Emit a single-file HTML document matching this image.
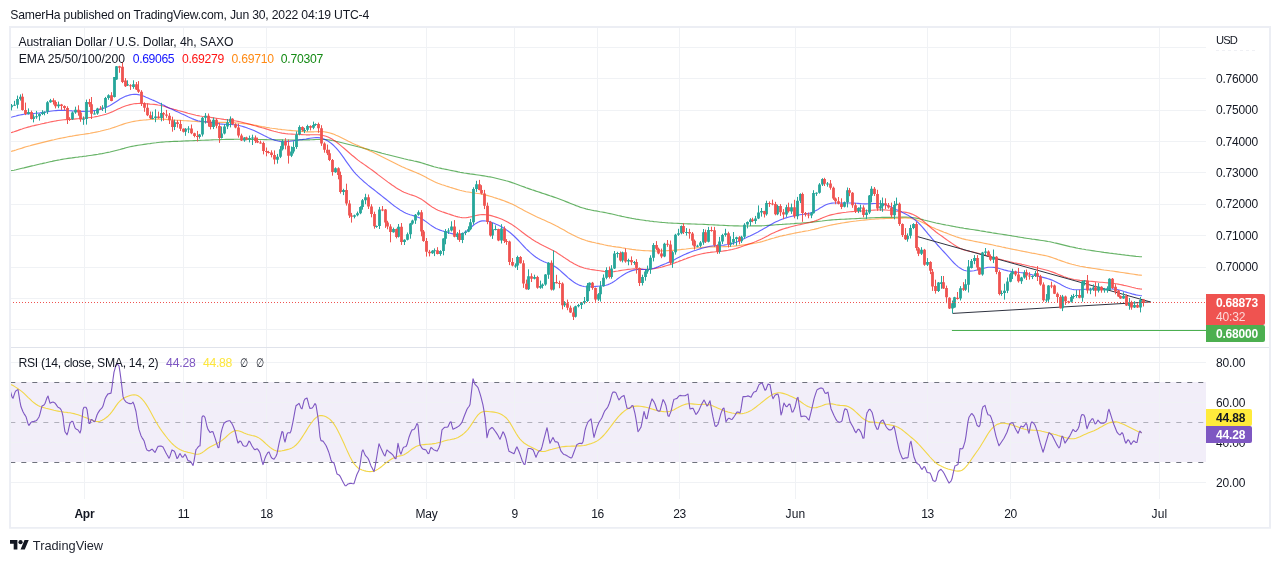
<!DOCTYPE html>
<html><head><meta charset="utf-8"><title>AUDUSD chart</title>
<style>
html,body{margin:0;padding:0;background:#fff;}
body{width:1280px;height:563px;position:relative;overflow:hidden;font-family:"Liberation Sans","DejaVu Sans",sans-serif;color:#131722;}
.x{position:absolute;white-space:pre;line-height:14px;}
svg{position:absolute;left:0;top:0;}
.bd{position:absolute;left:1206px;border-radius:0 2px 2px 0;z-index:2;}
</style></head><body>
<svg width="1280" height="563" viewBox="0 0 1280 563">
<rect x="10.5" y="382" width="1195.5" height="80" fill="#7e57c2" fill-opacity="0.1"/>
<g stroke="#f0f2f5" stroke-width="1" fill="none"><path d="M84.5 28V499"/><path d="M183.5 28V499"/><path d="M266.5 28V499"/><path d="M426.5 28V499"/><path d="M514.5 28V499"/><path d="M597.5 28V499"/><path d="M679.5 28V499"/><path d="M795.5 28V499"/><path d="M927.5 28V499"/><path d="M1010.5 28V499"/><path d="M1159.5 28V499"/><path d="M10.5 47.5H1206"/><path d="M10.5 78.5H1206"/><path d="M10.5 110.5H1206"/><path d="M10.5 141.5H1206"/><path d="M10.5 172.5H1206"/><path d="M10.5 204.5H1206"/><path d="M10.5 235.5H1206"/><path d="M10.5 267.5H1206"/><path d="M10.5 298.5H1206"/><path d="M10.5 329.5H1206"/><path d="M10.5 362.5H1206"/><path d="M10.5 402.5H1206"/><path d="M10.5 442.5H1206"/><path d="M10.5 482.5H1206"/></g>
<path d="M1216 50.5H1258" stroke="#eff0f4" stroke-width="1" stroke-dasharray="3 3" fill="none"/>
<g stroke="#6f727d" stroke-width="1.2" fill="none" stroke-dasharray="5 6"><path d="M10.3 382.5H1206"/><path d="M10.3 462.5H1206"/><path d="M10.3 422.5H1206" stroke-opacity="0.5"/></g>
<path d="M10.0 170.8 L12.0 170.5 L14.0 170.2 L16.0 169.8 L18.0 169.3 L20.0 168.8 L22.0 168.3 L24.0 167.9 L26.0 167.4 L28.0 166.9 L30.0 166.4 L32.0 165.9 L34.0 165.5 L36.0 165.0 L38.0 164.5 L40.0 164.0 L42.0 163.6 L44.0 163.1 L46.0 162.7 L48.0 162.2 L50.0 161.8 L52.0 161.4 L54.0 160.9 L56.0 160.5 L58.0 160.1 L60.0 159.8 L62.0 159.4 L64.0 159.0 L66.0 158.7 L68.0 158.4 L70.0 158.1 L72.0 157.9 L74.0 157.6 L76.0 157.3 L78.0 157.1 L80.0 156.8 L82.0 156.6 L84.0 156.3 L86.0 156.1 L88.0 155.8 L90.0 155.5 L92.0 155.2 L94.0 154.9 L96.0 154.6 L98.0 154.3 L100.0 153.9 L102.0 153.6 L104.0 153.2 L106.0 152.8 L108.0 152.4 L110.0 152.0 L112.0 151.5 L114.0 151.0 L116.0 150.5 L118.0 150.0 L120.0 149.5 L122.0 148.9 L124.0 148.4 L126.0 147.8 L128.0 147.3 L130.0 146.8 L132.0 146.4 L134.0 146.0 L136.0 145.6 L138.0 145.3 L140.0 145.0 L142.0 144.7 L144.0 144.4 L146.0 144.1 L148.0 143.8 L150.0 143.6 L152.0 143.3 L154.0 143.0 L156.0 142.8 L158.0 142.5 L160.0 142.3 L162.0 142.1 L164.0 142.0 L166.0 141.8 L168.0 141.7 L170.0 141.6 L172.0 141.5 L174.0 141.4 L176.0 141.3 L178.0 141.3 L180.0 141.2 L182.0 141.1 L184.0 141.0 L186.0 140.9 L188.0 140.9 L190.0 140.8 L192.0 140.7 L194.0 140.6 L196.0 140.5 L198.0 140.5 L200.0 140.4 L202.0 140.3 L204.0 140.2 L206.0 140.1 L208.0 140.1 L210.0 140.0 L212.0 139.9 L214.0 139.8 L216.0 139.7 L218.0 139.7 L220.0 139.6 L222.0 139.5 L224.0 139.5 L226.0 139.4 L228.0 139.4 L230.0 139.3 L232.0 139.3 L234.0 139.3 L236.0 139.2 L238.0 139.2 L240.0 139.2 L242.0 139.2 L244.0 139.2 L246.0 139.3 L248.0 139.3 L250.0 139.3 L252.0 139.3 L254.0 139.4 L256.0 139.4 L258.0 139.5 L260.0 139.5 L262.0 139.5 L264.0 139.6 L266.0 139.6 L268.0 139.7 L270.0 139.7 L272.0 139.7 L274.0 139.8 L276.0 139.8 L278.0 139.9 L280.0 139.9 L282.0 139.9 L284.0 140.0 L286.0 140.0 L288.0 140.0 L290.0 140.0 L292.0 140.0 L294.0 140.0 L296.0 140.0 L298.0 140.0 L300.0 139.9 L302.0 139.9 L304.0 139.9 L306.0 139.9 L308.0 139.8 L310.0 139.8 L312.0 139.7 L314.0 139.6 L316.0 139.5 L318.0 139.5 L320.0 139.5 L322.0 139.5 L324.0 139.5 L326.0 139.6 L328.0 139.8 L330.0 140.1 L332.0 140.5 L334.0 140.8 L336.0 141.3 L338.0 141.7 L340.0 142.2 L342.0 142.7 L344.0 143.2 L346.0 143.7 L348.0 144.2 L350.0 144.7 L352.0 145.2 L354.0 145.7 L356.0 146.2 L358.0 146.8 L360.0 147.3 L362.0 147.8 L364.0 148.4 L366.0 148.9 L368.0 149.4 L370.0 150.0 L372.0 150.5 L374.0 151.0 L376.0 151.5 L378.0 152.1 L380.0 152.6 L382.0 153.2 L384.0 153.7 L386.0 154.3 L388.0 154.8 L390.0 155.3 L392.0 155.8 L394.0 156.3 L396.0 156.8 L398.0 157.3 L400.0 157.8 L402.0 158.3 L404.0 158.8 L406.0 159.2 L408.0 159.7 L410.0 160.1 L412.0 160.5 L414.0 161.0 L416.0 161.4 L418.0 161.9 L420.0 162.4 L422.0 163.0 L424.0 163.6 L426.0 164.3 L428.0 164.9 L430.0 165.5 L432.0 166.1 L434.0 166.7 L436.0 167.2 L438.0 167.7 L440.0 168.1 L442.0 168.6 L444.0 169.0 L446.0 169.4 L448.0 169.8 L450.0 170.2 L452.0 170.6 L454.0 171.0 L456.0 171.4 L458.0 171.9 L460.0 172.3 L462.0 172.6 L464.0 173.0 L466.0 173.3 L468.0 173.6 L470.0 173.9 L472.0 174.1 L474.0 174.4 L476.0 174.7 L478.0 175.0 L480.0 175.3 L482.0 175.6 L484.0 175.9 L486.0 176.2 L488.0 176.6 L490.0 176.9 L492.0 177.3 L494.0 177.7 L496.0 178.2 L498.0 178.7 L500.0 179.2 L502.0 179.7 L504.0 180.2 L506.0 180.8 L508.0 181.3 L510.0 181.9 L512.0 182.6 L514.0 183.3 L516.0 184.0 L518.0 184.7 L520.0 185.5 L522.0 186.2 L524.0 186.9 L526.0 187.7 L528.0 188.4 L530.0 189.1 L532.0 189.8 L534.0 190.4 L536.0 191.1 L538.0 191.7 L540.0 192.4 L542.0 193.1 L544.0 193.7 L546.0 194.4 L548.0 195.1 L550.0 195.8 L552.0 196.4 L554.0 197.1 L556.0 197.8 L558.0 198.5 L560.0 199.2 L562.0 200.0 L564.0 200.8 L566.0 201.6 L568.0 202.4 L570.0 203.2 L572.0 204.0 L574.0 204.8 L576.0 205.6 L578.0 206.3 L580.0 207.1 L582.0 207.7 L584.0 208.3 L586.0 208.9 L588.0 209.4 L590.0 209.8 L592.0 210.2 L594.0 210.6 L596.0 210.9 L598.0 211.3 L600.0 211.7 L602.0 212.0 L604.0 212.4 L606.0 212.8 L608.0 213.2 L610.0 213.6 L612.0 214.0 L614.0 214.5 L616.0 215.0 L618.0 215.5 L620.0 215.9 L622.0 216.4 L624.0 216.8 L626.0 217.2 L628.0 217.6 L630.0 218.0 L632.0 218.4 L634.0 218.7 L636.0 219.1 L638.0 219.4 L640.0 219.7 L642.0 220.0 L644.0 220.3 L646.0 220.6 L648.0 220.8 L650.0 221.1 L652.0 221.3 L654.0 221.6 L656.0 221.8 L658.0 222.0 L660.0 222.2 L662.0 222.4 L664.0 222.5 L666.0 222.7 L668.0 222.9 L670.0 223.0 L672.0 223.1 L674.0 223.2 L676.0 223.3 L678.0 223.4 L680.0 223.5 L682.0 223.6 L684.0 223.7 L686.0 223.8 L688.0 223.9 L690.0 223.9 L692.0 224.0 L694.0 224.0 L696.0 224.1 L698.0 224.2 L700.0 224.2 L702.0 224.3 L704.0 224.4 L706.0 224.5 L708.0 224.6 L710.0 224.7 L712.0 224.8 L714.0 224.9 L716.0 225.0 L718.0 225.1 L720.0 225.2 L722.0 225.3 L724.0 225.4 L726.0 225.5 L728.0 225.6 L730.0 225.7 L732.0 225.8 L734.0 225.9 L736.0 225.9 L738.0 225.9 L740.0 226.0 L742.0 226.0 L744.0 226.0 L746.0 226.0 L748.0 226.0 L750.0 226.0 L752.0 225.9 L754.0 225.9 L756.0 225.9 L758.0 225.9 L760.0 225.8 L762.0 225.8 L764.0 225.7 L766.0 225.5 L768.0 225.4 L770.0 225.3 L772.0 225.1 L774.0 225.0 L776.0 224.8 L778.0 224.6 L780.0 224.5 L782.0 224.4 L784.0 224.2 L786.0 224.1 L788.0 224.0 L790.0 223.9 L792.0 223.7 L794.0 223.6 L796.0 223.4 L798.0 223.3 L800.0 223.2 L802.0 223.0 L804.0 222.8 L806.0 222.7 L808.0 222.5 L810.0 222.3 L812.0 222.1 L814.0 221.9 L816.0 221.7 L818.0 221.4 L820.0 221.2 L822.0 221.0 L824.0 220.7 L826.0 220.5 L828.0 220.3 L830.0 220.1 L832.0 219.9 L834.0 219.8 L836.0 219.6 L838.0 219.5 L840.0 219.4 L842.0 219.3 L844.0 219.2 L846.0 219.1 L848.0 219.0 L850.0 218.9 L852.0 218.8 L854.0 218.7 L856.0 218.6 L858.0 218.5 L860.0 218.4 L862.0 218.3 L864.0 218.2 L866.0 218.1 L868.0 218.0 L870.0 217.9 L872.0 217.8 L874.0 217.7 L876.0 217.6 L878.0 217.5 L880.0 217.5 L882.0 217.4 L884.0 217.4 L886.0 217.4 L888.0 217.3 L890.0 217.3 L892.0 217.3 L894.0 217.3 L896.0 217.2 L898.0 217.2 L900.0 217.2 L902.0 217.1 L904.0 217.1 L906.0 217.1 L908.0 217.2 L910.0 217.3 L912.0 217.5 L914.0 217.7 L916.0 218.1 L918.0 218.5 L920.0 219.0 L922.0 219.4 L924.0 220.0 L926.0 220.5 L928.0 221.0 L930.0 221.5 L932.0 222.0 L934.0 222.5 L936.0 223.0 L938.0 223.4 L940.0 223.8 L942.0 224.2 L944.0 224.6 L946.0 225.0 L948.0 225.3 L950.0 225.7 L952.0 226.1 L954.0 226.5 L956.0 226.9 L958.0 227.2 L960.0 227.6 L962.0 227.9 L964.0 228.3 L966.0 228.6 L968.0 228.9 L970.0 229.2 L972.0 229.5 L974.0 229.8 L976.0 230.1 L978.0 230.4 L980.0 230.8 L982.0 231.1 L984.0 231.4 L986.0 231.8 L988.0 232.1 L990.0 232.4 L992.0 232.8 L994.0 233.1 L996.0 233.4 L998.0 233.7 L1000.0 234.0 L1002.0 234.3 L1004.0 234.6 L1006.0 234.9 L1008.0 235.2 L1010.0 235.5 L1012.0 235.9 L1014.0 236.2 L1016.0 236.5 L1018.0 236.9 L1020.0 237.2 L1022.0 237.5 L1024.0 237.9 L1026.0 238.2 L1028.0 238.5 L1030.0 238.8 L1032.0 239.1 L1034.0 239.3 L1036.0 239.6 L1038.0 239.9 L1040.0 240.2 L1042.0 240.5 L1044.0 240.8 L1046.0 241.1 L1048.0 241.5 L1050.0 241.8 L1052.0 242.2 L1054.0 242.7 L1056.0 243.1 L1058.0 243.6 L1060.0 244.1 L1062.0 244.6 L1064.0 245.1 L1066.0 245.6 L1068.0 246.1 L1070.0 246.6 L1072.0 247.0 L1074.0 247.4 L1076.0 247.9 L1078.0 248.3 L1080.0 248.6 L1082.0 249.0 L1084.0 249.3 L1086.0 249.7 L1088.0 250.0 L1090.0 250.3 L1092.0 250.6 L1094.0 250.9 L1096.0 251.2 L1098.0 251.5 L1100.0 251.8 L1102.0 252.1 L1104.0 252.4 L1106.0 252.6 L1108.0 252.9 L1110.0 253.2 L1112.0 253.4 L1114.0 253.7 L1116.0 253.9 L1118.0 254.2 L1120.0 254.4 L1122.0 254.7 L1124.0 254.9 L1126.0 255.2 L1128.0 255.4 L1130.0 255.7 L1132.0 255.9 L1134.0 256.1 L1136.0 256.4 L1138.0 256.5 L1140.0 256.7 L1142.0 256.8" stroke="#008000" stroke-opacity="0.6" stroke-width="1.15" fill="none" stroke-linejoin="round"/>
<path d="M10.0 151.5 L12.0 151.1 L14.0 150.6 L16.0 150.0 L18.0 149.3 L20.0 148.7 L22.0 148.1 L24.0 147.4 L26.0 146.8 L28.0 146.2 L30.0 145.7 L32.0 145.1 L34.0 144.6 L36.0 144.1 L38.0 143.6 L40.0 143.1 L42.0 142.6 L44.0 142.1 L46.0 141.6 L48.0 141.1 L50.0 140.6 L52.0 140.1 L54.0 139.7 L56.0 139.2 L58.0 138.8 L60.0 138.4 L62.0 138.0 L64.0 137.6 L66.0 137.2 L68.0 136.8 L70.0 136.4 L72.0 136.1 L74.0 135.7 L76.0 135.4 L78.0 135.1 L80.0 134.8 L82.0 134.5 L84.0 134.2 L86.0 133.9 L88.0 133.6 L90.0 133.3 L92.0 132.9 L94.0 132.5 L96.0 132.1 L98.0 131.7 L100.0 131.3 L102.0 130.8 L104.0 130.3 L106.0 129.8 L108.0 129.3 L110.0 128.7 L112.0 128.0 L114.0 127.4 L116.0 126.7 L118.0 126.0 L120.0 125.3 L122.0 124.6 L124.0 123.9 L126.0 123.3 L128.0 122.8 L130.0 122.3 L132.0 121.8 L134.0 121.4 L136.0 121.0 L138.0 120.7 L140.0 120.4 L142.0 120.2 L144.0 120.0 L146.0 119.9 L148.0 119.7 L150.0 119.5 L152.0 119.4 L154.0 119.2 L156.0 119.1 L158.0 119.1 L160.0 119.1 L162.0 119.1 L164.0 119.2 L166.0 119.4 L168.0 119.6 L170.0 119.7 L172.0 119.9 L174.0 120.0 L176.0 120.2 L178.0 120.3 L180.0 120.4 L182.0 120.5 L184.0 120.7 L186.0 120.8 L188.0 120.9 L190.0 121.0 L192.0 121.2 L194.0 121.3 L196.0 121.4 L198.0 121.6 L200.0 121.7 L202.0 121.8 L204.0 121.8 L206.0 121.9 L208.0 122.0 L210.0 122.1 L212.0 122.1 L214.0 122.2 L216.0 122.2 L218.0 122.3 L220.0 122.3 L222.0 122.4 L224.0 122.4 L226.0 122.4 L228.0 122.5 L230.0 122.5 L232.0 122.6 L234.0 122.7 L236.0 122.9 L238.0 123.0 L240.0 123.2 L242.0 123.4 L244.0 123.6 L246.0 123.8 L248.0 124.1 L250.0 124.4 L252.0 124.7 L254.0 125.0 L256.0 125.4 L258.0 125.8 L260.0 126.2 L262.0 126.6 L264.0 126.9 L266.0 127.3 L268.0 127.6 L270.0 128.0 L272.0 128.3 L274.0 128.5 L276.0 128.8 L278.0 129.1 L280.0 129.3 L282.0 129.6 L284.0 129.8 L286.0 130.0 L288.0 130.2 L290.0 130.4 L292.0 130.6 L294.0 130.8 L296.0 130.9 L298.0 131.1 L300.0 131.3 L302.0 131.5 L304.0 131.6 L306.0 131.8 L308.0 131.8 L310.0 131.8 L312.0 131.8 L314.0 131.8 L316.0 131.7 L318.0 131.6 L320.0 131.6 L322.0 131.6 L324.0 131.8 L326.0 132.1 L328.0 132.5 L330.0 133.0 L332.0 133.6 L334.0 134.3 L336.0 135.2 L338.0 136.0 L340.0 137.0 L342.0 138.0 L344.0 139.0 L346.0 140.0 L348.0 141.1 L350.0 142.0 L352.0 143.0 L354.0 143.9 L356.0 144.8 L358.0 145.6 L360.0 146.5 L362.0 147.3 L364.0 148.1 L366.0 149.0 L368.0 149.9 L370.0 150.9 L372.0 151.8 L374.0 152.8 L376.0 153.8 L378.0 154.8 L380.0 155.8 L382.0 156.8 L384.0 157.8 L386.0 158.8 L388.0 159.8 L390.0 160.8 L392.0 161.8 L394.0 162.8 L396.0 163.8 L398.0 164.8 L400.0 165.7 L402.0 166.7 L404.0 167.6 L406.0 168.5 L408.0 169.3 L410.0 170.1 L412.0 170.9 L414.0 171.7 L416.0 172.5 L418.0 173.4 L420.0 174.2 L422.0 175.2 L424.0 176.2 L426.0 177.3 L428.0 178.4 L430.0 179.5 L432.0 180.5 L434.0 181.5 L436.0 182.4 L438.0 183.3 L440.0 184.0 L442.0 184.7 L444.0 185.3 L446.0 186.0 L448.0 186.6 L450.0 187.3 L452.0 187.9 L454.0 188.5 L456.0 189.1 L458.0 189.7 L460.0 190.3 L462.0 190.8 L464.0 191.2 L466.0 191.7 L468.0 192.0 L470.0 192.3 L472.0 192.7 L474.0 193.0 L476.0 193.2 L478.0 193.5 L480.0 193.8 L482.0 194.2 L484.0 194.6 L486.0 195.1 L488.0 195.6 L490.0 196.2 L492.0 196.8 L494.0 197.5 L496.0 198.1 L498.0 198.8 L500.0 199.4 L502.0 200.1 L504.0 200.8 L506.0 201.6 L508.0 202.4 L510.0 203.2 L512.0 204.1 L514.0 205.1 L516.0 206.1 L518.0 207.2 L520.0 208.3 L522.0 209.3 L524.0 210.4 L526.0 211.5 L528.0 212.5 L530.0 213.5 L532.0 214.5 L534.0 215.5 L536.0 216.5 L538.0 217.4 L540.0 218.3 L542.0 219.2 L544.0 220.1 L546.0 221.0 L548.0 221.9 L550.0 222.8 L552.0 223.7 L554.0 224.7 L556.0 225.8 L558.0 226.8 L560.0 227.9 L562.0 229.0 L564.0 230.1 L566.0 231.3 L568.0 232.4 L570.0 233.4 L572.0 234.5 L574.0 235.5 L576.0 236.5 L578.0 237.4 L580.0 238.3 L582.0 239.1 L584.0 239.8 L586.0 240.5 L588.0 241.1 L590.0 241.6 L592.0 242.1 L594.0 242.5 L596.0 243.0 L598.0 243.4 L600.0 243.9 L602.0 244.3 L604.0 244.8 L606.0 245.2 L608.0 245.6 L610.0 245.9 L612.0 246.3 L614.0 246.6 L616.0 246.9 L618.0 247.1 L620.0 247.4 L622.0 247.8 L624.0 248.1 L626.0 248.5 L628.0 248.8 L630.0 249.1 L632.0 249.4 L634.0 249.6 L636.0 249.9 L638.0 250.1 L640.0 250.3 L642.0 250.5 L644.0 250.6 L646.0 250.7 L648.0 250.8 L650.0 250.9 L652.0 251.0 L654.0 251.0 L656.0 251.0 L658.0 251.0 L660.0 250.9 L662.0 250.9 L664.0 250.8 L666.0 250.7 L668.0 250.6 L670.0 250.5 L672.0 250.4 L674.0 250.2 L676.0 250.1 L678.0 249.9 L680.0 249.7 L682.0 249.4 L684.0 249.2 L686.0 249.0 L688.0 248.7 L690.0 248.5 L692.0 248.3 L694.0 248.1 L696.0 247.9 L698.0 247.7 L700.0 247.6 L702.0 247.4 L704.0 247.3 L706.0 247.1 L708.0 247.0 L710.0 246.9 L712.0 246.8 L714.0 246.8 L716.0 246.8 L718.0 246.7 L720.0 246.7 L722.0 246.7 L724.0 246.6 L726.0 246.6 L728.0 246.5 L730.0 246.4 L732.0 246.3 L734.0 246.1 L736.0 245.9 L738.0 245.7 L740.0 245.4 L742.0 245.1 L744.0 244.8 L746.0 244.5 L748.0 244.2 L750.0 243.9 L752.0 243.6 L754.0 243.3 L756.0 243.0 L758.0 242.5 L760.0 242.1 L762.0 241.6 L764.0 241.0 L766.0 240.4 L768.0 239.8 L770.0 239.1 L772.0 238.5 L774.0 238.0 L776.0 237.4 L778.0 236.9 L780.0 236.3 L782.0 235.9 L784.0 235.4 L786.0 235.0 L788.0 234.5 L790.0 234.1 L792.0 233.7 L794.0 233.3 L796.0 232.9 L798.0 232.5 L800.0 232.1 L802.0 231.8 L804.0 231.4 L806.0 231.0 L808.0 230.7 L810.0 230.3 L812.0 229.8 L814.0 229.4 L816.0 228.9 L818.0 228.4 L820.0 227.8 L822.0 227.3 L824.0 226.8 L826.0 226.3 L828.0 225.8 L830.0 225.3 L832.0 224.9 L834.0 224.5 L836.0 224.1 L838.0 223.7 L840.0 223.4 L842.0 223.0 L844.0 222.7 L846.0 222.4 L848.0 222.1 L850.0 221.8 L852.0 221.5 L854.0 221.2 L856.0 221.0 L858.0 220.7 L860.0 220.5 L862.0 220.3 L864.0 220.1 L866.0 219.9 L868.0 219.7 L870.0 219.5 L872.0 219.3 L874.0 219.2 L876.0 219.0 L878.0 218.9 L880.0 218.8 L882.0 218.7 L884.0 218.6 L886.0 218.5 L888.0 218.5 L890.0 218.4 L892.0 218.4 L894.0 218.3 L896.0 218.2 L898.0 218.2 L900.0 218.1 L902.0 218.1 L904.0 218.0 L906.0 218.0 L908.0 218.1 L910.0 218.3 L912.0 218.7 L914.0 219.1 L916.0 219.7 L918.0 220.5 L920.0 221.3 L922.0 222.2 L924.0 223.2 L926.0 224.2 L928.0 225.2 L930.0 226.2 L932.0 227.2 L934.0 228.1 L936.0 229.0 L938.0 229.8 L940.0 230.6 L942.0 231.4 L944.0 232.2 L946.0 232.9 L948.0 233.7 L950.0 234.5 L952.0 235.3 L954.0 236.0 L956.0 236.8 L958.0 237.4 L960.0 238.0 L962.0 238.6 L964.0 239.1 L966.0 239.6 L968.0 240.0 L970.0 240.4 L972.0 240.8 L974.0 241.2 L976.0 241.6 L978.0 242.0 L980.0 242.4 L982.0 242.8 L984.0 243.2 L986.0 243.6 L988.0 244.0 L990.0 244.4 L992.0 244.8 L994.0 245.2 L996.0 245.7 L998.0 246.1 L1000.0 246.5 L1002.0 247.0 L1004.0 247.4 L1006.0 247.9 L1008.0 248.3 L1010.0 248.7 L1012.0 249.1 L1014.0 249.5 L1016.0 249.9 L1018.0 250.3 L1020.0 250.7 L1022.0 251.1 L1024.0 251.5 L1026.0 251.9 L1028.0 252.3 L1030.0 252.7 L1032.0 253.1 L1034.0 253.4 L1036.0 253.8 L1038.0 254.2 L1040.0 254.6 L1042.0 255.0 L1044.0 255.4 L1046.0 255.8 L1048.0 256.3 L1050.0 256.9 L1052.0 257.5 L1054.0 258.2 L1056.0 258.9 L1058.0 259.7 L1060.0 260.4 L1062.0 261.1 L1064.0 261.8 L1066.0 262.5 L1068.0 263.1 L1070.0 263.7 L1072.0 264.3 L1074.0 264.8 L1076.0 265.3 L1078.0 265.7 L1080.0 266.2 L1082.0 266.5 L1084.0 266.9 L1086.0 267.3 L1088.0 267.6 L1090.0 267.9 L1092.0 268.2 L1094.0 268.5 L1096.0 268.8 L1098.0 269.1 L1100.0 269.4 L1102.0 269.7 L1104.0 270.0 L1106.0 270.2 L1108.0 270.5 L1110.0 270.8 L1112.0 271.0 L1114.0 271.3 L1116.0 271.6 L1118.0 271.9 L1120.0 272.2 L1122.0 272.5 L1124.0 272.8 L1126.0 273.1 L1128.0 273.4 L1130.0 273.7 L1132.0 274.0 L1134.0 274.3 L1136.0 274.6 L1138.0 274.9 L1140.0 275.1 L1142.0 275.3" stroke="#ff8000" stroke-opacity="0.6" stroke-width="1.15" fill="none" stroke-linejoin="round"/>
<path d="M10.0 132.8 L12.0 132.4 L14.0 131.8 L16.0 131.1 L18.0 130.4 L20.0 129.6 L22.0 129.0 L24.0 128.3 L26.0 127.7 L28.0 127.1 L30.0 126.6 L32.0 126.0 L34.0 125.6 L36.0 125.1 L38.0 124.7 L40.0 124.3 L42.0 123.8 L44.0 123.4 L46.0 122.9 L48.0 122.5 L50.0 122.0 L52.0 121.6 L54.0 121.2 L56.0 120.9 L58.0 120.5 L60.0 120.2 L62.0 120.0 L64.0 119.8 L66.0 119.6 L68.0 119.5 L70.0 119.4 L72.0 119.2 L74.0 119.1 L76.0 118.9 L78.0 118.7 L80.0 118.5 L82.0 118.3 L84.0 118.1 L86.0 117.9 L88.0 117.7 L90.0 117.5 L92.0 117.3 L94.0 117.0 L96.0 116.6 L98.0 116.3 L100.0 115.8 L102.0 115.3 L104.0 114.7 L106.0 114.2 L108.0 113.5 L110.0 112.7 L112.0 111.9 L114.0 111.0 L116.0 110.1 L118.0 109.1 L120.0 108.2 L122.0 107.3 L124.0 106.5 L126.0 105.8 L128.0 105.2 L130.0 104.6 L132.0 104.2 L134.0 103.8 L136.0 103.6 L138.0 103.5 L140.0 103.4 L142.0 103.5 L144.0 103.6 L146.0 103.7 L148.0 103.9 L150.0 104.1 L152.0 104.2 L154.0 104.4 L156.0 104.6 L158.0 105.0 L160.0 105.3 L162.0 105.8 L164.0 106.3 L166.0 106.9 L168.0 107.6 L170.0 108.2 L172.0 108.8 L174.0 109.4 L176.0 109.9 L178.0 110.5 L180.0 111.0 L182.0 111.5 L184.0 112.0 L186.0 112.6 L188.0 113.2 L190.0 113.7 L192.0 114.2 L194.0 114.7 L196.0 115.2 L198.0 115.6 L200.0 116.0 L202.0 116.3 L204.0 116.5 L206.0 116.8 L208.0 117.0 L210.0 117.3 L212.0 117.6 L214.0 117.9 L216.0 118.2 L218.0 118.5 L220.0 118.8 L222.0 119.1 L224.0 119.4 L226.0 119.6 L228.0 119.9 L230.0 120.2 L232.0 120.4 L234.0 120.7 L236.0 121.0 L238.0 121.4 L240.0 121.8 L242.0 122.3 L244.0 122.8 L246.0 123.3 L248.0 123.8 L250.0 124.3 L252.0 124.9 L254.0 125.5 L256.0 126.0 L258.0 126.6 L260.0 127.2 L262.0 127.8 L264.0 128.3 L266.0 128.9 L268.0 129.5 L270.0 130.1 L272.0 130.7 L274.0 131.3 L276.0 131.8 L278.0 132.3 L280.0 132.7 L282.0 133.1 L284.0 133.4 L286.0 133.7 L288.0 133.9 L290.0 134.0 L292.0 134.1 L294.0 134.2 L296.0 134.3 L298.0 134.4 L300.0 134.5 L302.0 134.6 L304.0 134.7 L306.0 134.8 L308.0 134.8 L310.0 134.8 L312.0 134.7 L314.0 134.7 L316.0 134.7 L318.0 134.8 L320.0 134.9 L322.0 135.2 L324.0 135.7 L326.0 136.2 L328.0 137.0 L330.0 138.0 L332.0 139.1 L334.0 140.4 L336.0 141.8 L338.0 143.3 L340.0 144.9 L342.0 146.6 L344.0 148.3 L346.0 150.0 L348.0 151.7 L350.0 153.5 L352.0 155.2 L354.0 156.8 L356.0 158.5 L358.0 160.1 L360.0 161.6 L362.0 163.0 L364.0 164.4 L366.0 165.8 L368.0 167.2 L370.0 168.6 L372.0 170.0 L374.0 171.5 L376.0 173.0 L378.0 174.6 L380.0 176.1 L382.0 177.6 L384.0 179.1 L386.0 180.6 L388.0 182.1 L390.0 183.5 L392.0 185.0 L394.0 186.3 L396.0 187.7 L398.0 188.9 L400.0 190.1 L402.0 191.2 L404.0 192.2 L406.0 193.0 L408.0 193.8 L410.0 194.5 L412.0 195.1 L414.0 195.7 L416.0 196.5 L418.0 197.4 L420.0 198.4 L422.0 199.6 L424.0 201.0 L426.0 202.5 L428.0 204.0 L430.0 205.5 L432.0 206.9 L434.0 208.1 L436.0 209.2 L438.0 210.2 L440.0 211.0 L442.0 211.8 L444.0 212.4 L446.0 213.1 L448.0 213.8 L450.0 214.4 L452.0 215.1 L454.0 215.8 L456.0 216.4 L458.0 216.9 L460.0 217.3 L462.0 217.6 L464.0 217.7 L466.0 217.7 L468.0 217.4 L470.0 217.0 L472.0 216.6 L474.0 216.0 L476.0 215.5 L478.0 215.1 L480.0 214.8 L482.0 214.6 L484.0 214.6 L486.0 214.8 L488.0 215.0 L490.0 215.4 L492.0 215.9 L494.0 216.5 L496.0 217.1 L498.0 217.8 L500.0 218.5 L502.0 219.3 L504.0 220.2 L506.0 221.2 L508.0 222.3 L510.0 223.4 L512.0 224.6 L514.0 226.0 L516.0 227.4 L518.0 228.9 L520.0 230.4 L522.0 232.0 L524.0 233.5 L526.0 235.0 L528.0 236.5 L530.0 237.8 L532.0 239.2 L534.0 240.5 L536.0 241.7 L538.0 242.8 L540.0 243.9 L542.0 245.0 L544.0 246.0 L546.0 246.9 L548.0 247.9 L550.0 248.9 L552.0 249.9 L554.0 251.0 L556.0 252.1 L558.0 253.4 L560.0 254.7 L562.0 256.1 L564.0 257.4 L566.0 258.8 L568.0 260.1 L570.0 261.4 L572.0 262.6 L574.0 263.8 L576.0 264.8 L578.0 265.8 L580.0 266.6 L582.0 267.3 L584.0 268.0 L586.0 268.5 L588.0 268.9 L590.0 269.3 L592.0 269.6 L594.0 269.9 L596.0 270.2 L598.0 270.5 L600.0 270.8 L602.0 271.1 L604.0 271.4 L606.0 271.6 L608.0 271.8 L610.0 271.8 L612.0 271.7 L614.0 271.6 L616.0 271.3 L618.0 271.0 L620.0 270.6 L622.0 270.3 L624.0 270.0 L626.0 269.7 L628.0 269.4 L630.0 269.2 L632.0 269.0 L634.0 268.9 L636.0 268.9 L638.0 268.9 L640.0 269.0 L642.0 269.1 L644.0 269.2 L646.0 269.3 L648.0 269.3 L650.0 269.2 L652.0 269.0 L654.0 268.7 L656.0 268.3 L658.0 267.9 L660.0 267.5 L662.0 267.0 L664.0 266.4 L666.0 265.8 L668.0 265.2 L670.0 264.6 L672.0 263.9 L674.0 263.2 L676.0 262.4 L678.0 261.7 L680.0 260.9 L682.0 260.2 L684.0 259.4 L686.0 258.7 L688.0 257.9 L690.0 257.2 L692.0 256.5 L694.0 255.9 L696.0 255.3 L698.0 254.8 L700.0 254.3 L702.0 253.8 L704.0 253.4 L706.0 253.0 L708.0 252.6 L710.0 252.4 L712.0 252.1 L714.0 252.0 L716.0 251.8 L718.0 251.6 L720.0 251.4 L722.0 251.2 L724.0 250.9 L726.0 250.6 L728.0 250.3 L730.0 249.9 L732.0 249.5 L734.0 249.0 L736.0 248.5 L738.0 247.9 L740.0 247.2 L742.0 246.5 L744.0 245.8 L746.0 245.1 L748.0 244.4 L750.0 243.7 L752.0 243.0 L754.0 242.3 L756.0 241.5 L758.0 240.6 L760.0 239.7 L762.0 238.8 L764.0 237.8 L766.0 236.7 L768.0 235.7 L770.0 234.6 L772.0 233.6 L774.0 232.7 L776.0 231.8 L778.0 230.9 L780.0 230.1 L782.0 229.4 L784.0 228.7 L786.0 228.1 L788.0 227.6 L790.0 227.0 L792.0 226.5 L794.0 226.0 L796.0 225.5 L798.0 225.0 L800.0 224.6 L802.0 224.1 L804.0 223.7 L806.0 223.3 L808.0 222.9 L810.0 222.5 L812.0 221.9 L814.0 221.3 L816.0 220.6 L818.0 219.8 L820.0 218.9 L822.0 218.1 L824.0 217.2 L826.0 216.5 L828.0 215.8 L830.0 215.1 L832.0 214.6 L834.0 214.2 L836.0 213.8 L838.0 213.4 L840.0 213.1 L842.0 212.8 L844.0 212.5 L846.0 212.3 L848.0 212.0 L850.0 211.8 L852.0 211.6 L854.0 211.5 L856.0 211.4 L858.0 211.2 L860.0 211.1 L862.0 211.0 L864.0 210.9 L866.0 210.7 L868.0 210.6 L870.0 210.4 L872.0 210.2 L874.0 210.1 L876.0 210.0 L878.0 209.9 L880.0 209.8 L882.0 209.8 L884.0 209.9 L886.0 210.0 L888.0 210.2 L890.0 210.3 L892.0 210.6 L894.0 210.8 L896.0 211.1 L898.0 211.3 L900.0 211.5 L902.0 211.8 L904.0 212.0 L906.0 212.4 L908.0 212.8 L910.0 213.4 L912.0 214.1 L914.0 215.0 L916.0 216.0 L918.0 217.3 L920.0 218.6 L922.0 220.1 L924.0 221.7 L926.0 223.4 L928.0 225.2 L930.0 227.0 L932.0 228.7 L934.0 230.3 L936.0 232.0 L938.0 233.5 L940.0 234.9 L942.0 236.3 L944.0 237.8 L946.0 239.2 L948.0 240.6 L950.0 242.0 L952.0 243.4 L954.0 244.8 L956.0 246.1 L958.0 247.2 L960.0 248.3 L962.0 249.1 L964.0 249.9 L966.0 250.5 L968.0 250.9 L970.0 251.4 L972.0 251.8 L974.0 252.3 L976.0 252.8 L978.0 253.3 L980.0 253.8 L982.0 254.4 L984.0 254.9 L986.0 255.5 L988.0 256.0 L990.0 256.5 L992.0 257.1 L994.0 257.6 L996.0 258.1 L998.0 258.7 L1000.0 259.2 L1002.0 259.7 L1004.0 260.3 L1006.0 260.8 L1008.0 261.3 L1010.0 261.8 L1012.0 262.2 L1014.0 262.7 L1016.0 263.1 L1018.0 263.5 L1020.0 263.9 L1022.0 264.4 L1024.0 264.8 L1026.0 265.2 L1028.0 265.7 L1030.0 266.2 L1032.0 266.6 L1034.0 267.1 L1036.0 267.6 L1038.0 268.0 L1040.0 268.5 L1042.0 269.0 L1044.0 269.5 L1046.0 270.0 L1048.0 270.5 L1050.0 271.2 L1052.0 271.9 L1054.0 272.6 L1056.0 273.4 L1058.0 274.3 L1060.0 275.1 L1062.0 275.9 L1064.0 276.7 L1066.0 277.4 L1068.0 278.0 L1070.0 278.5 L1072.0 279.0 L1074.0 279.5 L1076.0 279.8 L1078.0 280.1 L1080.0 280.4 L1082.0 280.6 L1084.0 280.8 L1086.0 280.9 L1088.0 281.1 L1090.0 281.2 L1092.0 281.4 L1094.0 281.6 L1096.0 281.8 L1098.0 282.0 L1100.0 282.2 L1102.0 282.3 L1104.0 282.5 L1106.0 282.7 L1108.0 282.9 L1110.0 283.0 L1112.0 283.3 L1114.0 283.5 L1116.0 283.8 L1118.0 284.1 L1120.0 284.5 L1122.0 284.9 L1124.0 285.4 L1126.0 285.8 L1128.0 286.3 L1130.0 286.8 L1132.0 287.3 L1134.0 287.7 L1136.0 288.2 L1138.0 288.6 L1140.0 288.9 L1142.0 289.1" stroke="#ff0000" stroke-opacity="0.6" stroke-width="1.15" fill="none" stroke-linejoin="round"/>
<path d="M10.0 117.4 L12.0 117.0 L14.0 116.5 L16.0 116.0 L18.0 115.4 L20.0 115.0 L22.0 114.6 L24.0 114.3 L26.0 114.0 L28.0 113.9 L30.0 113.7 L32.0 113.6 L34.0 113.5 L36.0 113.3 L38.0 113.1 L40.0 112.9 L42.0 112.6 L44.0 112.3 L46.0 112.0 L48.0 111.7 L50.0 111.3 L52.0 111.0 L54.0 110.8 L56.0 110.6 L58.0 110.4 L60.0 110.3 L62.0 110.3 L64.0 110.4 L66.0 110.4 L68.0 110.6 L70.0 110.7 L72.0 110.9 L74.0 111.0 L76.0 111.2 L78.0 111.3 L80.0 111.4 L82.0 111.4 L84.0 111.4 L86.0 111.3 L88.0 111.2 L90.0 111.1 L92.0 110.9 L94.0 110.6 L96.0 110.3 L98.0 109.9 L100.0 109.4 L102.0 108.9 L104.0 108.2 L106.0 107.5 L108.0 106.6 L110.0 105.5 L112.0 104.3 L114.0 103.0 L116.0 101.7 L118.0 100.4 L120.0 99.1 L122.0 98.0 L124.0 97.0 L126.0 96.1 L128.0 95.5 L130.0 94.9 L132.0 94.5 L134.0 94.3 L136.0 94.3 L138.0 94.6 L140.0 95.0 L142.0 95.6 L144.0 96.3 L146.0 97.2 L148.0 98.0 L150.0 98.9 L152.0 99.8 L154.0 100.6 L156.0 101.5 L158.0 102.4 L160.0 103.4 L162.0 104.4 L164.0 105.3 L166.0 106.4 L168.0 107.4 L170.0 108.4 L172.0 109.3 L174.0 110.2 L176.0 111.2 L178.0 112.1 L180.0 113.0 L182.0 113.9 L184.0 114.8 L186.0 115.8 L188.0 116.8 L190.0 117.7 L192.0 118.6 L194.0 119.4 L196.0 120.1 L198.0 120.7 L200.0 121.1 L202.0 121.4 L204.0 121.7 L206.0 121.9 L208.0 122.1 L210.0 122.3 L212.0 122.5 L214.0 122.9 L216.0 123.2 L218.0 123.5 L220.0 123.9 L222.0 124.1 L224.0 124.3 L226.0 124.4 L228.0 124.4 L230.0 124.5 L232.0 124.5 L234.0 124.7 L236.0 124.9 L238.0 125.3 L240.0 125.7 L242.0 126.3 L244.0 126.9 L246.0 127.5 L248.0 128.3 L250.0 129.0 L252.0 129.7 L254.0 130.6 L256.0 131.5 L258.0 132.4 L260.0 133.4 L262.0 134.4 L264.0 135.5 L266.0 136.5 L268.0 137.5 L270.0 138.4 L272.0 139.2 L274.0 139.9 L276.0 140.5 L278.0 141.0 L280.0 141.4 L282.0 141.6 L284.0 141.7 L286.0 141.6 L288.0 141.5 L290.0 141.3 L292.0 141.0 L294.0 140.7 L296.0 140.4 L298.0 140.1 L300.0 139.8 L302.0 139.6 L304.0 139.3 L306.0 139.0 L308.0 138.6 L310.0 138.3 L312.0 138.0 L314.0 137.7 L316.0 137.6 L318.0 137.6 L320.0 137.9 L322.0 138.3 L324.0 139.0 L326.0 139.9 L328.0 141.1 L330.0 142.4 L332.0 144.0 L334.0 145.8 L336.0 147.9 L338.0 150.2 L340.0 152.7 L342.0 155.4 L344.0 158.2 L346.0 161.1 L348.0 163.9 L350.0 166.7 L352.0 169.3 L354.0 171.8 L356.0 174.1 L358.0 176.2 L360.0 178.1 L362.0 179.9 L364.0 181.7 L366.0 183.4 L368.0 185.1 L370.0 186.7 L372.0 188.3 L374.0 189.8 L376.0 191.4 L378.0 193.0 L380.0 194.5 L382.0 196.1 L384.0 197.7 L386.0 199.3 L388.0 200.9 L390.0 202.5 L392.0 204.1 L394.0 205.7 L396.0 207.1 L398.0 208.5 L400.0 209.9 L402.0 211.1 L404.0 212.2 L406.0 213.2 L408.0 214.0 L410.0 214.7 L412.0 215.3 L414.0 215.9 L416.0 216.5 L418.0 217.2 L420.0 218.0 L422.0 219.0 L424.0 220.2 L426.0 221.6 L428.0 223.1 L430.0 224.6 L432.0 226.0 L434.0 227.3 L436.0 228.4 L438.0 229.3 L440.0 230.1 L442.0 230.8 L444.0 231.4 L446.0 231.9 L448.0 232.5 L450.0 233.1 L452.0 233.6 L454.0 234.2 L456.0 234.5 L458.0 234.6 L460.0 234.4 L462.0 233.8 L464.0 232.9 L466.0 231.6 L468.0 229.9 L470.0 228.2 L472.0 226.5 L474.0 224.8 L476.0 223.4 L478.0 222.2 L480.0 221.4 L482.0 220.9 L484.0 220.8 L486.0 221.0 L488.0 221.3 L490.0 221.9 L492.0 222.6 L494.0 223.3 L496.0 224.2 L498.0 225.1 L500.0 226.0 L502.0 227.1 L504.0 228.3 L506.0 229.6 L508.0 231.0 L510.0 232.5 L512.0 234.2 L514.0 236.0 L516.0 238.0 L518.0 240.0 L520.0 242.2 L522.0 244.3 L524.0 246.5 L526.0 248.6 L528.0 250.5 L530.0 252.4 L532.0 254.1 L534.0 255.8 L536.0 257.3 L538.0 258.6 L540.0 259.8 L542.0 260.8 L544.0 261.7 L546.0 262.5 L548.0 263.2 L550.0 264.0 L552.0 264.9 L554.0 266.0 L556.0 267.3 L558.0 268.8 L560.0 270.4 L562.0 272.2 L564.0 274.0 L566.0 275.8 L568.0 277.6 L570.0 279.2 L572.0 280.8 L574.0 282.2 L576.0 283.4 L578.0 284.5 L580.0 285.4 L582.0 286.0 L584.0 286.5 L586.0 286.8 L588.0 286.9 L590.0 286.9 L592.0 286.7 L594.0 286.6 L596.0 286.4 L598.0 286.2 L600.0 286.0 L602.0 285.8 L604.0 285.6 L606.0 285.2 L608.0 284.6 L610.0 283.8 L612.0 282.8 L614.0 281.5 L616.0 280.1 L618.0 278.5 L620.0 277.1 L622.0 275.7 L624.0 274.4 L626.0 273.2 L628.0 272.2 L630.0 271.4 L632.0 270.6 L634.0 270.1 L636.0 269.7 L638.0 269.5 L640.0 269.4 L642.0 269.4 L644.0 269.5 L646.0 269.5 L648.0 269.4 L650.0 269.2 L652.0 268.8 L654.0 268.3 L656.0 267.6 L658.0 266.8 L660.0 265.9 L662.0 265.1 L664.0 264.3 L666.0 263.5 L668.0 262.6 L670.0 261.8 L672.0 260.8 L674.0 259.9 L676.0 258.8 L678.0 257.8 L680.0 256.8 L682.0 255.8 L684.0 254.8 L686.0 253.9 L688.0 253.1 L690.0 252.3 L692.0 251.5 L694.0 250.8 L696.0 250.2 L698.0 249.5 L700.0 248.9 L702.0 248.3 L704.0 247.7 L706.0 247.2 L708.0 246.7 L710.0 246.3 L712.0 246.0 L714.0 245.8 L716.0 245.6 L718.0 245.5 L720.0 245.4 L722.0 245.3 L724.0 245.1 L726.0 244.8 L728.0 244.5 L730.0 244.1 L732.0 243.6 L734.0 243.0 L736.0 242.3 L738.0 241.5 L740.0 240.6 L742.0 239.7 L744.0 238.7 L746.0 237.8 L748.0 236.8 L750.0 235.9 L752.0 234.9 L754.0 233.9 L756.0 232.9 L758.0 231.9 L760.0 230.8 L762.0 229.7 L764.0 228.6 L766.0 227.4 L768.0 226.2 L770.0 225.0 L772.0 223.9 L774.0 222.8 L776.0 221.8 L778.0 220.9 L780.0 220.0 L782.0 219.2 L784.0 218.5 L786.0 217.9 L788.0 217.3 L790.0 216.8 L792.0 216.3 L794.0 215.9 L796.0 215.5 L798.0 215.1 L800.0 214.8 L802.0 214.5 L804.0 214.2 L806.0 213.9 L808.0 213.5 L810.0 213.1 L812.0 212.4 L814.0 211.6 L816.0 210.5 L818.0 209.4 L820.0 208.1 L822.0 206.9 L824.0 205.7 L826.0 204.7 L828.0 204.0 L830.0 203.5 L832.0 203.1 L834.0 203.0 L836.0 203.0 L838.0 203.0 L840.0 203.0 L842.0 203.1 L844.0 203.1 L846.0 203.0 L848.0 203.0 L850.0 203.0 L852.0 203.0 L854.0 203.1 L856.0 203.2 L858.0 203.4 L860.0 203.6 L862.0 203.8 L864.0 203.9 L866.0 203.9 L868.0 203.8 L870.0 203.7 L872.0 203.6 L874.0 203.5 L876.0 203.5 L878.0 203.5 L880.0 203.7 L882.0 204.0 L884.0 204.4 L886.0 205.0 L888.0 205.7 L890.0 206.5 L892.0 207.4 L894.0 208.4 L896.0 209.4 L898.0 210.3 L900.0 211.3 L902.0 212.3 L904.0 213.2 L906.0 214.3 L908.0 215.3 L910.0 216.4 L912.0 217.7 L914.0 219.1 L916.0 220.7 L918.0 222.5 L920.0 224.5 L922.0 226.7 L924.0 229.0 L926.0 231.4 L928.0 233.8 L930.0 236.2 L932.0 238.6 L934.0 240.9 L936.0 243.2 L938.0 245.5 L940.0 247.7 L942.0 249.9 L944.0 252.0 L946.0 254.2 L948.0 256.4 L950.0 258.6 L952.0 260.8 L954.0 263.0 L956.0 264.9 L958.0 266.6 L960.0 268.1 L962.0 269.3 L964.0 270.2 L966.0 270.8 L968.0 271.0 L970.0 271.1 L972.0 271.0 L974.0 270.8 L976.0 270.3 L978.0 269.8 L980.0 269.3 L982.0 268.8 L984.0 268.2 L986.0 267.7 L988.0 267.3 L990.0 267.2 L992.0 267.2 L994.0 267.4 L996.0 267.7 L998.0 268.1 L1000.0 268.7 L1002.0 269.3 L1004.0 269.9 L1006.0 270.4 L1008.0 270.9 L1010.0 271.2 L1012.0 271.6 L1014.0 271.9 L1016.0 272.1 L1018.0 272.2 L1020.0 272.5 L1022.0 272.7 L1024.0 273.0 L1026.0 273.4 L1028.0 273.8 L1030.0 274.2 L1032.0 274.7 L1034.0 275.2 L1036.0 275.6 L1038.0 276.1 L1040.0 276.6 L1042.0 277.1 L1044.0 277.6 L1046.0 278.1 L1048.0 278.7 L1050.0 279.4 L1052.0 280.1 L1054.0 281.0 L1056.0 282.0 L1058.0 283.1 L1060.0 284.1 L1062.0 285.2 L1064.0 286.3 L1066.0 287.2 L1068.0 288.0 L1070.0 288.7 L1072.0 289.2 L1074.0 289.6 L1076.0 289.7 L1078.0 289.8 L1080.0 289.7 L1082.0 289.6 L1084.0 289.4 L1086.0 289.3 L1088.0 289.2 L1090.0 289.1 L1092.0 289.1 L1094.0 289.1 L1096.0 289.1 L1098.0 289.2 L1100.0 289.2 L1102.0 289.2 L1104.0 289.2 L1106.0 289.1 L1108.0 289.0 L1110.0 289.0 L1112.0 289.0 L1114.0 289.1 L1116.0 289.4 L1118.0 289.7 L1120.0 290.2 L1122.0 290.8 L1124.0 291.5 L1126.0 292.1 L1128.0 292.7 L1130.0 293.3 L1132.0 293.9 L1134.0 294.4 L1136.0 294.9 L1138.0 295.2 L1140.0 295.5 L1142.0 295.7" stroke="#0000ff" stroke-opacity="0.6" stroke-width="1.15" fill="none" stroke-linejoin="round"/>

<path d="M916 236.2L1150.6 302" stroke="#2f3340" stroke-width="1.0" fill="none"/>
<path d="M952.65 313.4L1150.6 301.9" stroke="#2f3340" stroke-width="1.0" fill="none"/>
<path d="M11.5 104.0V110.4M14.5 100.8V105.8M17.5 95.6V108.5M20.5 94.4V100.6M28.5 108.4V114.5M33.5 114.3V122.4M36.5 110.9V118.8M39.5 113.3V120.6M42.5 110.2V115.0M44.5 111.4V115.3M47.5 101.1V114.0M50.5 98.9V102.8M58.5 101.6V108.2M72.5 111.5V120.0M75.5 106.7V113.8M83.5 116.4V124.8M86.5 99.6V124.6M94.5 111.0V114.4M97.5 107.8V114.7M102.5 105.2V111.0M105.5 96.9V112.9M108.5 94.3V99.8M114.5 77.0V97.5M116.5 66.0V79.8M127.5 80.3V86.0M133.5 80.3V88.8M152.5 111.6V119.3M155.5 109.3V122.2M161.5 102.8V121.3M174.5 119.7V130.1M185.5 128.1V135.8M188.5 126.2V133.1M199.5 133.9V138.7M202.5 117.0V136.5M205.5 113.1V123.6M213.5 117.5V129.1M221.5 126.5V138.5M224.5 124.1V134.4M227.5 119.0V129.1M230.5 116.4V127.4M244.5 137.1V141.8M249.5 135.6V142.4M252.5 134.7V145.0M277.5 153.9V163.6M280.5 146.1V158.1M282.5 139.5V150.5M291.5 146.5V157.1M293.5 141.2V153.5M296.5 131.4V148.9M299.5 125.3V135.3M304.5 127.9V133.1M307.5 124.7V131.4M313.5 121.6V129.2M315.5 123.4V125.9M335.5 167.4V172.8M343.5 188.8V195.1M354.5 214.6V218.4M357.5 211.6V216.3M360.5 206.2V214.2M362.5 199.0V209.7M365.5 193.8V204.2M376.5 225.5V227.8M379.5 206.9V229.0M393.5 227.6V232.7M398.5 224.0V237.5M404.5 239.3V245.0M407.5 232.5V240.4M410.5 222.9V238.7M412.5 219.7V224.7M415.5 214.0V223.9M418.5 210.4V215.7M432.5 250.1V253.9M434.5 248.4V256.1M440.5 250.2V255.8M443.5 238.3V255.3M445.5 229.1V244.3M448.5 228.2V234.0M451.5 221.3V231.5M457.5 232.1V239.7M462.5 232.5V243.1M465.5 230.4V235.1M468.5 226.3V232.2M470.5 218.9V230.3M473.5 187.3V224.7M476.5 180.8V191.9M492.5 222.9V238.9M495.5 225.3V230.4M501.5 224.2V243.5M515.5 263.4V267.8M517.5 255.7V270.0M528.5 269.3V290.0M534.5 274.7V279.4M540.5 280.6V288.8M542.5 283.4V288.5M545.5 274.1V285.7M548.5 262.2V278.8M553.5 250.4V290.5M564.5 301.2V307.0M575.5 305.7V317.5M578.5 303.9V307.4M581.5 302.0V309.0M584.5 297.0V304.2M587.5 283.0V302.0M589.5 282.4V291.2M598.5 293.1V300.9M600.5 281.1V301.6M603.5 274.4V286.7M606.5 267.3V279.3M611.5 265.2V278.7M614.5 251.0V269.0M617.5 251.8V257.7M622.5 251.6V262.4M628.5 258.7V265.3M634.5 261.0V264.8M642.5 274.7V285.5M645.5 270.0V280.7M647.5 265.6V273.7M650.5 255.3V273.8M653.5 243.1V261.4M664.5 242.8V257.2M672.5 251.1V267.8M675.5 233.8V254.6M678.5 228.8V235.9M681.5 225.5V234.3M686.5 228.1V235.6M697.5 244.7V247.3M700.5 241.1V247.2M703.5 229.0V244.8M708.5 226.9V242.4M719.5 236.9V253.7M722.5 233.8V244.0M725.5 228.8V236.7M730.5 236.3V246.8M733.5 232.0V244.8M736.5 236.7V245.7M741.5 235.8V243.0M744.5 223.2V238.7M747.5 221.4V228.4M750.5 218.2V226.0M755.5 215.9V223.9M758.5 205.4V219.1M761.5 208.0V216.6M766.5 200.7V215.6M777.5 204.7V215.2M786.5 204.8V216.9M791.5 203.6V213.9M797.5 196.9V219.3M800.5 193.3V203.1M811.5 212.1V218.2M813.5 190.2V213.6M816.5 192.3V195.9M819.5 183.1V193.6M822.5 178.2V186.0M827.5 182.0V186.7M844.5 201.5V207.4M847.5 187.5V207.4M858.5 207.3V213.1M860.5 204.7V212.2M866.5 209.5V218.9M869.5 195.0V214.1M871.5 186.2V202.3M880.5 200.2V210.8M882.5 197.5V211.8M894.5 201.0V219.3M896.5 197.6V205.5M907.5 233.4V241.7M910.5 224.8V238.5M913.5 223.2V229.2M921.5 247.2V255.0M927.5 258.1V266.0M938.5 282.0V292.0M941.5 276.0V288.8M952.5 300.5V313.4M954.5 296.8V307.8M960.5 286.1V300.5M965.5 279.2V290.9M968.5 260.0V292.5M971.5 259.0V268.5M974.5 255.1V264.2M982.5 251.9V275.7M985.5 248.0V255.0M993.5 249.5V263.1M1001.5 290.5V295.8M1004.5 283.7V299.6M1007.5 277.5V293.1M1010.5 272.6V282.3M1012.5 268.7V279.0M1021.5 276.8V283.9M1024.5 270.2V278.7M1032.5 275.4V279.1M1035.5 271.0V277.0M1046.5 294.1V302.4M1048.5 285.1V301.9M1062.5 294.9V311.1M1071.5 294.9V302.5M1073.5 293.9V298.8M1076.5 290.1V297.9M1082.5 280.6V301.7M1084.5 280.1V285.5M1090.5 287.7V294.2M1093.5 284.4V290.9M1098.5 283.1V292.5M1104.5 287.9V292.7M1107.5 286.3V292.7M1109.5 278.3V290.3M1123.5 292.2V298.9M1129.5 298.0V309.7M1134.5 301.2V308.0M1140.5 296.9V312.4" stroke="#26a69a" stroke-width="1" fill="none"/>
<path d="M22.5 93.6V110.6M25.5 102.6V115.1M31.5 110.6V119.5M53.5 98.3V104.6M55.5 100.3V108.4M61.5 103.9V109.9M64.5 105.4V110.4M67.5 106.3V124.0M69.5 117.2V120.9M78.5 105.3V115.7M80.5 110.2V121.8M89.5 98.9V106.9M91.5 97.0V119.0M100.5 106.1V108.9M111.5 92.2V101.3M119.5 65.8V72.8M122.5 62.1V83.1M125.5 78.1V87.0M130.5 84.2V89.9M136.5 82.0V90.0M138.5 81.1V92.9M141.5 90.2V106.0M144.5 102.3V111.8M147.5 103.4V116.1M150.5 111.5V119.1M158.5 111.6V118.7M163.5 112.1V120.8M166.5 109.9V117.8M169.5 113.0V124.0M172.5 116.7V131.7M177.5 120.1V127.6M180.5 120.1V131.0M183.5 128.3V132.5M191.5 124.5V134.2M194.5 132.7V137.3M197.5 130.9V141.5M208.5 113.5V126.6M210.5 119.6V129.4M216.5 118.3V128.3M219.5 122.7V142.9M232.5 118.2V125.1M235.5 123.3V128.3M238.5 123.6V137.6M241.5 133.7V141.0M246.5 136.7V140.3M255.5 135.5V143.1M257.5 137.6V143.1M260.5 140.6V143.7M263.5 141.6V154.4M266.5 147.5V156.3M268.5 150.8V153.5M271.5 150.3V157.4M274.5 150.4V164.3M285.5 138.2V149.4M288.5 139.5V163.6M302.5 126.4V131.5M310.5 125.3V130.4M318.5 122.6V132.8M321.5 125.2V145.9M324.5 142.3V152.7M327.5 144.6V155.1M329.5 149.7V161.1M332.5 159.0V175.7M338.5 167.3V179.3M340.5 171.6V193.6M346.5 183.7V205.6M349.5 200.2V218.0M351.5 212.9V222.6M368.5 194.5V209.0M371.5 204.2V217.3M374.5 211.7V228.7M382.5 206.0V211.2M385.5 209.0V227.9M387.5 220.8V229.3M390.5 224.2V242.3M396.5 228.5V238.4M401.5 223.0V244.9M421.5 210.1V236.3M423.5 230.0V241.8M426.5 238.0V256.6M429.5 249.9V256.4M437.5 247.2V254.4M454.5 220.1V237.3M459.5 229.8V241.9M479.5 179.9V190.3M481.5 185.2V194.5M484.5 189.9V209.1M487.5 202.6V224.2M490.5 220.9V236.6M498.5 228.7V241.2M504.5 226.3V243.0M506.5 239.1V244.8M509.5 240.7V265.1M512.5 258.0V266.4M520.5 256.1V263.6M523.5 260.3V287.9M526.5 279.6V289.6M531.5 273.3V282.0M537.5 275.8V288.7M551.5 260.4V290.5M556.5 274.8V283.5M559.5 280.7V288.2M562.5 282.3V309.4M567.5 299.6V310.2M570.5 305.6V312.9M573.5 307.3V320.0M592.5 281.9V289.8M595.5 287.5V301.8M609.5 266.5V278.5M620.5 251.5V261.6M625.5 248.4V262.7M631.5 256.4V265.1M636.5 259.2V273.6M639.5 267.5V286.0M656.5 241.1V250.0M658.5 247.6V254.3M661.5 248.6V258.2M667.5 240.0V246.8M670.5 240.5V264.4M683.5 223.2V234.0M689.5 228.8V238.7M692.5 232.0V245.4M694.5 239.5V249.6M705.5 229.6V243.0M711.5 226.7V231.7M714.5 226.9V247.0M717.5 244.3V253.9M728.5 231.7V247.5M739.5 236.1V244.3M752.5 217.7V222.3M764.5 210.8V217.5M769.5 201.4V206.9M772.5 199.6V205.3M775.5 201.8V215.3M780.5 204.1V215.9M783.5 209.1V219.2M788.5 202.7V212.6M794.5 199.8V218.3M802.5 192.6V221.8M805.5 212.0V216.5M808.5 212.5V218.3M824.5 177.8V186.0M830.5 180.0V189.7M833.5 186.6V199.9M835.5 197.5V204.2M838.5 197.0V204.4M841.5 198.3V209.1M849.5 188.0V196.2M852.5 192.1V207.8M855.5 202.9V213.0M863.5 205.3V217.4M874.5 187.0V196.0M877.5 189.8V210.8M885.5 198.3V209.1M888.5 203.0V208.7M891.5 202.6V217.2M899.5 202.5V225.9M902.5 223.4V237.0M905.5 228.1V240.0M916.5 221.9V250.6M918.5 247.1V256.1M924.5 248.9V265.8M930.5 261.2V274.1M932.5 269.0V290.9M935.5 279.7V293.6M943.5 276.0V289.0M946.5 285.6V303.2M949.5 297.3V309.0M957.5 292.0V299.6M963.5 282.2V290.9M977.5 255.1V270.4M979.5 267.3V274.9M988.5 250.4V256.6M990.5 254.4V261.1M996.5 256.2V274.2M999.5 270.3V295.3M1015.5 270.7V276.2M1018.5 267.9V282.6M1026.5 269.5V280.0M1029.5 272.2V279.6M1037.5 266.1V281.0M1040.5 274.9V285.7M1043.5 282.4V301.8M1051.5 281.7V288.2M1054.5 284.6V294.1M1057.5 292.4V302.1M1060.5 295.0V308.5M1065.5 295.6V304.9M1068.5 300.8V303.4M1079.5 289.8V298.3M1087.5 275.0V293.5M1095.5 282.2V296.5M1101.5 286.3V292.7M1112.5 278.0V289.0M1115.5 284.2V294.3M1118.5 290.0V296.9M1120.5 295.4V298.9M1126.5 294.3V305.9M1131.5 300.7V309.7M1137.5 303.3V308.0M1143.5 299.1V306.5" stroke="#ef5350" stroke-width="1" fill="none"/>
<path d="M10.10 105.3h2.8v2.0h-2.8zM13.10 104.8h2.8v1.0h-2.8zM16.10 99.0h2.8v5.8h-2.8zM19.10 96.7h2.8v2.3h-2.8zM27.10 111.9h2.8v2.1h-2.8zM32.10 116.5h2.8v2.5h-2.8zM35.10 116.2h2.8v1.0h-2.8zM38.10 114.1h2.8v2.1h-2.8zM41.10 112.6h2.8v1.4h-2.8zM43.10 111.8h2.8v1.0h-2.8zM46.10 102.2h2.8v9.6h-2.8zM49.10 100.2h2.8v2.0h-2.8zM57.10 104.6h2.8v1.7h-2.8zM71.10 112.4h2.8v6.8h-2.8zM74.10 109.8h2.8v2.6h-2.8zM82.10 118.8h2.8v1.0h-2.8zM85.10 101.9h2.8v17.0h-2.8zM93.10 113.4h2.8v1.0h-2.8zM96.10 108.4h2.8v5.0h-2.8zM101.10 107.6h2.8v1.0h-2.8zM104.10 98.0h2.8v9.6h-2.8zM107.10 95.3h2.8v2.7h-2.8zM113.10 77.1h2.8v19.9h-2.8zM115.10 66.3h2.8v13.2h-2.8zM126.10 84.2h2.8v1.4h-2.8zM132.10 84.2h2.8v2.8h-2.8zM151.10 118.0h2.8v1.0h-2.8zM154.10 116.4h2.8v1.6h-2.8zM160.10 112.9h2.8v5.0h-2.8zM173.10 122.3h2.8v4.7h-2.8zM184.10 128.7h2.8v3.1h-2.8zM187.10 128.5h2.8v1.0h-2.8zM198.10 134.6h2.8v2.4h-2.8zM201.10 117.8h2.8v16.8h-2.8zM204.10 115.7h2.8v2.1h-2.8zM212.10 119.8h2.8v7.1h-2.8zM220.10 133.4h2.8v4.5h-2.8zM223.10 126.5h2.8v6.9h-2.8zM226.10 122.2h2.8v4.4h-2.8zM229.10 118.8h2.8v3.3h-2.8zM243.10 137.5h2.8v3.0h-2.8zM248.10 138.1h2.8v1.2h-2.8zM251.10 137.5h2.8v1.0h-2.8zM276.10 156.7h2.8v3.0h-2.8zM279.10 149.3h2.8v7.4h-2.8zM281.10 141.3h2.8v8.0h-2.8zM290.10 151.6h2.8v4.1h-2.8zM292.10 147.1h2.8v4.5h-2.8zM295.10 134.4h2.8v12.7h-2.8zM298.10 127.0h2.8v7.3h-2.8zM303.10 129.9h2.8v1.0h-2.8zM306.10 126.0h2.8v3.8h-2.8zM312.10 125.0h2.8v2.7h-2.8zM314.10 124.1h2.8v1.0h-2.8zM334.10 168.3h2.8v3.9h-2.8zM342.10 190.1h2.8v1.9h-2.8zM353.10 215.3h2.8v1.4h-2.8zM356.10 213.2h2.8v2.1h-2.8zM359.10 207.1h2.8v6.1h-2.8zM361.10 200.3h2.8v6.8h-2.8zM364.10 197.2h2.8v3.1h-2.8zM375.10 226.1h2.8v1.0h-2.8zM378.10 209.4h2.8v16.6h-2.8zM392.10 228.9h2.8v3.3h-2.8zM397.10 226.8h2.8v10.0h-2.8zM403.10 239.8h2.8v2.3h-2.8zM406.10 234.2h2.8v5.6h-2.8zM409.10 223.4h2.8v10.8h-2.8zM411.10 220.4h2.8v3.0h-2.8zM414.10 214.8h2.8v5.7h-2.8zM417.10 212.2h2.8v2.6h-2.8zM431.10 250.7h2.8v2.6h-2.8zM433.10 250.3h2.8v1.0h-2.8zM439.10 251.1h2.8v2.8h-2.8zM442.10 238.6h2.8v12.4h-2.8zM444.10 231.0h2.8v7.7h-2.8zM447.10 230.6h2.8v1.0h-2.8zM450.10 226.6h2.8v4.0h-2.8zM456.10 233.6h2.8v3.3h-2.8zM461.10 233.1h2.8v6.9h-2.8zM464.10 231.8h2.8v1.3h-2.8zM467.10 229.2h2.8v2.5h-2.8zM469.10 222.2h2.8v7.0h-2.8zM472.10 188.9h2.8v33.3h-2.8zM475.10 184.2h2.8v4.7h-2.8zM491.10 229.3h2.8v6.1h-2.8zM494.10 229.1h2.8v1.0h-2.8zM500.10 228.4h2.8v12.1h-2.8zM514.10 265.4h2.8v1.0h-2.8zM516.10 256.9h2.8v8.5h-2.8zM527.10 276.3h2.8v12.9h-2.8zM533.10 277.1h2.8v1.7h-2.8zM539.10 286.0h2.8v1.8h-2.8zM541.10 284.6h2.8v1.5h-2.8zM544.10 274.6h2.8v9.9h-2.8zM547.10 262.8h2.8v11.9h-2.8zM552.10 282.1h2.8v7.5h-2.8zM563.10 303.2h2.8v2.1h-2.8zM574.10 306.2h2.8v10.6h-2.8zM577.10 305.1h2.8v1.1h-2.8zM580.10 302.6h2.8v2.5h-2.8zM583.10 301.0h2.8v1.6h-2.8zM586.10 285.6h2.8v15.4h-2.8zM588.10 282.8h2.8v2.7h-2.8zM597.10 294.3h2.8v5.2h-2.8zM599.10 286.2h2.8v8.1h-2.8zM602.10 277.8h2.8v8.4h-2.8zM605.10 270.0h2.8v7.8h-2.8zM610.10 268.5h2.8v8.6h-2.8zM613.10 253.4h2.8v15.1h-2.8zM616.10 253.0h2.8v1.0h-2.8zM621.10 252.2h2.8v8.4h-2.8zM627.10 259.9h2.8v1.6h-2.8zM633.10 262.1h2.8v1.0h-2.8zM641.10 277.0h2.8v6.1h-2.8zM644.10 271.5h2.8v5.4h-2.8zM646.10 269.2h2.8v2.3h-2.8zM649.10 257.7h2.8v11.5h-2.8zM652.10 244.9h2.8v12.8h-2.8zM663.10 243.7h2.8v12.8h-2.8zM671.10 252.3h2.8v10.5h-2.8zM674.10 234.7h2.8v17.6h-2.8zM677.10 233.2h2.8v1.5h-2.8zM680.10 226.0h2.8v7.3h-2.8zM685.10 232.1h2.8v1.0h-2.8zM696.10 245.7h2.8v1.0h-2.8zM699.10 242.6h2.8v3.1h-2.8zM702.10 232.2h2.8v10.4h-2.8zM707.10 229.9h2.8v11.9h-2.8zM718.10 241.6h2.8v10.2h-2.8zM721.10 235.0h2.8v6.6h-2.8zM724.10 233.3h2.8v1.7h-2.8zM729.10 242.5h2.8v1.9h-2.8zM732.10 239.0h2.8v3.5h-2.8zM735.10 237.2h2.8v1.7h-2.8zM740.10 236.7h2.8v4.6h-2.8zM743.10 224.7h2.8v12.1h-2.8zM746.10 221.9h2.8v2.7h-2.8zM749.10 219.4h2.8v2.6h-2.8zM754.10 218.5h2.8v2.6h-2.8zM757.10 212.4h2.8v6.0h-2.8zM760.10 211.1h2.8v1.3h-2.8zM765.10 202.9h2.8v11.3h-2.8zM776.10 206.0h2.8v8.2h-2.8zM785.10 207.3h2.8v7.1h-2.8zM790.10 207.2h2.8v4.2h-2.8zM796.10 200.8h2.8v15.5h-2.8zM799.10 194.1h2.8v6.7h-2.8zM810.10 213.2h2.8v2.3h-2.8zM812.10 193.1h2.8v20.1h-2.8zM815.10 192.8h2.8v1.0h-2.8zM818.10 184.6h2.8v8.2h-2.8zM821.10 179.0h2.8v5.6h-2.8zM826.10 183.5h2.8v1.0h-2.8zM843.10 202.2h2.8v4.6h-2.8zM846.10 190.3h2.8v11.9h-2.8zM857.10 207.9h2.8v3.1h-2.8zM859.10 207.6h2.8v1.0h-2.8zM865.10 212.6h2.8v2.5h-2.8zM868.10 195.6h2.8v17.0h-2.8zM870.10 188.7h2.8v7.0h-2.8zM879.10 206.2h2.8v2.3h-2.8zM881.10 203.2h2.8v3.0h-2.8zM893.10 205.0h2.8v10.3h-2.8zM895.10 203.7h2.8v1.4h-2.8zM906.10 235.7h2.8v3.5h-2.8zM909.10 227.9h2.8v7.8h-2.8zM912.10 223.9h2.8v4.0h-2.8zM920.10 249.8h2.8v3.9h-2.8zM926.10 262.1h2.8v2.7h-2.8zM937.10 282.4h2.8v8.5h-2.8zM940.10 282.2h2.8v1.8h-2.8zM951.10 303.2h2.8v5.3h-2.8zM953.10 297.3h2.8v10.1h-2.8zM959.10 288.2h2.8v10.2h-2.8zM964.10 284.3h2.8v5.5h-2.8zM967.10 266.4h2.8v18.3h-2.8zM970.10 261.0h2.8v7.0h-2.8zM973.10 257.9h2.8v3.1h-2.8zM981.10 252.6h2.8v21.9h-2.8zM984.10 251.5h2.8v1.2h-2.8zM992.10 256.8h2.8v2.9h-2.8zM1000.10 293.0h2.8v1.0h-2.8zM1003.10 290.7h2.8v2.3h-2.8zM1006.10 281.6h2.8v9.1h-2.8zM1009.10 274.2h2.8v7.5h-2.8zM1011.10 271.4h2.8v2.8h-2.8zM1020.10 277.5h2.8v3.7h-2.8zM1023.10 272.3h2.8v5.2h-2.8zM1031.10 276.0h2.8v1.0h-2.8zM1034.10 273.2h2.8v2.8h-2.8zM1045.10 299.5h2.8v1.0h-2.8zM1047.10 285.4h2.8v14.0h-2.8zM1061.10 296.6h2.8v11.6h-2.8zM1070.10 296.9h2.8v4.8h-2.8zM1072.10 295.9h2.8v1.0h-2.8zM1075.10 294.9h2.8v1.0h-2.8zM1081.10 281.6h2.8v16.1h-2.8zM1083.10 280.4h2.8v1.2h-2.8zM1089.10 289.4h2.8v1.2h-2.8zM1092.10 287.5h2.8v1.9h-2.8zM1097.10 286.6h2.8v4.2h-2.8zM1103.10 289.0h2.8v1.6h-2.8zM1106.10 288.4h2.8v2.1h-2.8zM1108.10 278.8h2.8v11.2h-2.8zM1122.10 295.9h2.8v2.7h-2.8zM1128.10 302.3h2.8v3.7h-2.8zM1133.10 304.9h2.8v2.7h-2.8zM1139.10 300.1h2.8v7.5h-2.8z" fill="#26a69a"/>
<path d="M21.10 96.7h2.8v13.4h-2.8zM24.10 110.0h2.8v3.9h-2.8zM30.10 111.9h2.8v7.1h-2.8zM52.10 100.2h2.8v1.8h-2.8zM54.10 102.0h2.8v4.2h-2.8zM60.10 104.6h2.8v1.5h-2.8zM63.10 106.1h2.8v1.9h-2.8zM66.10 108.0h2.8v11.1h-2.8zM68.10 119.1h2.8v1.0h-2.8zM77.10 109.8h2.8v2.8h-2.8zM79.10 112.6h2.8v6.9h-2.8zM88.10 101.9h2.8v2.3h-2.8zM90.10 104.2h2.8v9.6h-2.8zM99.10 108.4h2.8v1.0h-2.8zM110.10 95.3h2.8v5.7h-2.8zM118.10 66.3h2.8v1.5h-2.8zM121.10 66.8h2.8v15.2h-2.8zM124.10 80.6h2.8v5.7h-2.8zM129.10 85.2h2.8v1.1h-2.8zM135.10 84.2h2.8v5.3h-2.8zM137.10 89.5h2.8v2.2h-2.8zM140.10 91.7h2.8v11.6h-2.8zM143.10 103.3h2.8v4.4h-2.8zM146.10 107.7h2.8v7.5h-2.8zM149.10 115.3h2.8v3.0h-2.8zM157.10 116.4h2.8v1.5h-2.8zM162.10 112.9h2.8v1.7h-2.8zM165.10 114.5h2.8v1.3h-2.8zM168.10 115.8h2.8v4.5h-2.8zM171.10 120.3h2.8v6.8h-2.8zM176.10 122.3h2.8v1.6h-2.8zM179.10 123.9h2.8v4.9h-2.8zM182.10 128.8h2.8v3.0h-2.8zM190.10 128.5h2.8v4.7h-2.8zM193.10 133.2h2.8v2.8h-2.8zM196.10 136.0h2.8v1.1h-2.8zM207.10 115.7h2.8v6.9h-2.8zM209.10 122.7h2.8v4.2h-2.8zM215.10 119.8h2.8v6.0h-2.8zM218.10 125.9h2.8v12.1h-2.8zM231.10 118.8h2.8v5.3h-2.8zM234.10 124.2h2.8v3.3h-2.8zM237.10 127.4h2.8v8.0h-2.8zM240.10 135.5h2.8v5.1h-2.8zM245.10 137.5h2.8v1.8h-2.8zM254.10 137.5h2.8v3.6h-2.8zM256.10 141.1h2.8v1.5h-2.8zM259.10 142.6h2.8v1.0h-2.8zM262.10 143.0h2.8v7.9h-2.8zM265.10 150.9h2.8v1.2h-2.8zM267.10 152.1h2.8v1.0h-2.8zM270.10 152.5h2.8v2.6h-2.8zM273.10 155.0h2.8v4.6h-2.8zM284.10 141.3h2.8v4.3h-2.8zM287.10 145.7h2.8v10.0h-2.8zM301.10 127.0h2.8v3.2h-2.8zM309.10 126.0h2.8v1.7h-2.8zM317.10 124.1h2.8v4.1h-2.8zM320.10 128.2h2.8v15.4h-2.8zM323.10 143.6h2.8v6.2h-2.8zM326.10 149.8h2.8v3.5h-2.8zM328.10 153.3h2.8v6.8h-2.8zM331.10 160.1h2.8v12.0h-2.8zM337.10 168.3h2.8v6.6h-2.8zM339.10 174.9h2.8v17.1h-2.8zM345.10 190.1h2.8v13.5h-2.8zM348.10 203.6h2.8v12.0h-2.8zM350.10 215.6h2.8v1.1h-2.8zM367.10 197.2h2.8v9.2h-2.8zM370.10 206.4h2.8v7.7h-2.8zM373.10 214.0h2.8v12.3h-2.8zM381.10 209.4h2.8v1.0h-2.8zM384.10 209.6h2.8v12.9h-2.8zM386.10 222.5h2.8v4.0h-2.8zM389.10 226.5h2.8v5.6h-2.8zM395.10 228.9h2.8v8.0h-2.8zM400.10 226.8h2.8v15.3h-2.8zM420.10 212.2h2.8v19.2h-2.8zM422.10 231.4h2.8v9.5h-2.8zM425.10 240.9h2.8v10.8h-2.8zM428.10 251.7h2.8v1.6h-2.8zM436.10 250.3h2.8v3.6h-2.8zM453.10 226.6h2.8v10.2h-2.8zM458.10 233.6h2.8v6.4h-2.8zM478.10 184.2h2.8v5.8h-2.8zM480.10 190.0h2.8v3.6h-2.8zM483.10 193.6h2.8v12.2h-2.8zM486.10 205.7h2.8v16.4h-2.8zM489.10 222.1h2.8v13.3h-2.8zM497.10 229.1h2.8v11.4h-2.8zM503.10 228.4h2.8v12.6h-2.8zM505.10 241.0h2.8v1.0h-2.8zM508.10 241.6h2.8v20.4h-2.8zM511.10 262.0h2.8v3.5h-2.8zM519.10 256.9h2.8v6.4h-2.8zM522.10 263.2h2.8v20.4h-2.8zM525.10 283.7h2.8v5.6h-2.8zM530.10 276.3h2.8v2.5h-2.8zM536.10 277.1h2.8v10.7h-2.8zM550.10 262.8h2.8v26.8h-2.8zM555.10 282.1h2.8v1.1h-2.8zM558.10 283.1h2.8v1.0h-2.8zM561.10 283.4h2.8v21.8h-2.8zM566.10 303.2h2.8v4.5h-2.8zM569.10 307.7h2.8v4.8h-2.8zM572.10 312.5h2.8v4.3h-2.8zM591.10 282.8h2.8v5.2h-2.8zM594.10 288.1h2.8v11.5h-2.8zM608.10 270.0h2.8v7.1h-2.8zM619.10 253.0h2.8v7.6h-2.8zM624.10 252.2h2.8v9.3h-2.8zM630.10 259.9h2.8v2.3h-2.8zM635.10 262.1h2.8v5.8h-2.8zM638.10 267.9h2.8v15.2h-2.8zM655.10 244.9h2.8v3.8h-2.8zM657.10 248.7h2.8v4.9h-2.8zM660.10 253.6h2.8v2.8h-2.8zM666.10 243.7h2.8v1.0h-2.8zM669.10 244.5h2.8v18.3h-2.8zM682.10 226.0h2.8v6.3h-2.8zM688.10 232.1h2.8v1.3h-2.8zM691.10 233.4h2.8v7.4h-2.8zM693.10 240.7h2.8v5.8h-2.8zM704.10 232.2h2.8v9.6h-2.8zM710.10 229.9h2.8v1.0h-2.8zM713.10 230.2h2.8v15.1h-2.8zM716.10 245.4h2.8v6.4h-2.8zM727.10 233.3h2.8v11.0h-2.8zM738.10 237.2h2.8v4.1h-2.8zM751.10 219.4h2.8v1.7h-2.8zM763.10 211.1h2.8v3.1h-2.8zM768.10 202.9h2.8v1.0h-2.8zM771.10 203.5h2.8v1.0h-2.8zM774.10 203.9h2.8v10.3h-2.8zM779.10 206.0h2.8v6.3h-2.8zM782.10 212.3h2.8v2.1h-2.8zM787.10 207.3h2.8v4.0h-2.8zM793.10 207.2h2.8v9.1h-2.8zM801.10 194.1h2.8v18.8h-2.8zM804.10 212.9h2.8v1.5h-2.8zM807.10 214.4h2.8v1.1h-2.8zM823.10 179.0h2.8v4.8h-2.8zM829.10 183.5h2.8v4.2h-2.8zM832.10 187.7h2.8v10.7h-2.8zM834.10 198.4h2.8v2.9h-2.8zM837.10 201.3h2.8v2.5h-2.8zM840.10 203.8h2.8v3.1h-2.8zM848.10 190.3h2.8v2.4h-2.8zM851.10 192.7h2.8v12.6h-2.8zM854.10 205.3h2.8v5.7h-2.8zM862.10 207.6h2.8v7.5h-2.8zM873.10 188.7h2.8v5.3h-2.8zM876.10 193.9h2.8v14.6h-2.8zM884.10 203.2h2.8v2.1h-2.8zM887.10 205.3h2.8v2.3h-2.8zM890.10 207.6h2.8v7.7h-2.8zM898.10 203.7h2.8v20.4h-2.8zM901.10 224.0h2.8v11.0h-2.8zM904.10 235.0h2.8v4.2h-2.8zM915.10 223.9h2.8v24.2h-2.8zM917.10 248.2h2.8v5.5h-2.8zM923.10 249.8h2.8v15.0h-2.8zM929.10 262.1h2.8v8.7h-2.8zM931.10 271.7h2.8v14.9h-2.8zM934.10 286.1h2.8v4.8h-2.8zM942.10 282.2h2.8v6.4h-2.8zM945.10 287.9h2.8v9.4h-2.8zM948.10 297.8h2.8v10.7h-2.8zM956.10 297.8h2.8v1.1h-2.8zM962.10 288.2h2.8v1.6h-2.8zM976.10 257.9h2.8v9.7h-2.8zM978.10 267.6h2.8v6.9h-2.8zM987.10 251.5h2.8v4.4h-2.8zM989.10 255.9h2.8v3.8h-2.8zM995.10 256.8h2.8v15.3h-2.8zM998.10 272.1h2.8v21.8h-2.8zM1014.10 271.4h2.8v3.1h-2.8zM1017.10 274.4h2.8v6.8h-2.8zM1025.10 272.3h2.8v3.2h-2.8zM1028.10 275.5h2.8v1.0h-2.8zM1036.10 273.2h2.8v3.3h-2.8zM1039.10 276.5h2.8v8.1h-2.8zM1042.10 284.5h2.8v15.7h-2.8zM1050.10 285.4h2.8v1.0h-2.8zM1053.10 285.6h2.8v8.2h-2.8zM1056.10 293.8h2.8v3.2h-2.8zM1059.10 297.0h2.8v11.2h-2.8zM1064.10 296.6h2.8v4.7h-2.8zM1067.10 301.3h2.8v1.0h-2.8zM1078.10 294.9h2.8v2.8h-2.8zM1086.10 280.4h2.8v10.2h-2.8zM1094.10 287.5h2.8v3.2h-2.8zM1100.10 286.8h2.8v3.7h-2.8zM1111.10 278.8h2.8v9.1h-2.8zM1114.10 286.8h2.8v4.8h-2.8zM1117.10 290.6h2.8v5.9h-2.8zM1119.10 295.9h2.8v2.7h-2.8zM1125.10 295.9h2.8v9.6h-2.8zM1130.10 302.3h2.8v5.3h-2.8zM1136.10 304.9h2.8v2.7h-2.8zM1142.10 299.6h2.8v3.2h-2.8z" fill="#ef5350"/>
<path d="M951.9 330.45H1206" stroke="#4caf50" stroke-width="1.15" fill="none"/>
<path d="M10 302.5H1206" stroke="#ef5350" stroke-width="1" stroke-dasharray="1 2" fill="none"/>
<path d="M10.0 384.2 L12.0 385.1 L14.0 386.1 L16.0 387.4 L18.0 388.7 L20.0 390.1 L22.0 391.6 L24.0 393.4 L26.0 395.3 L28.0 397.3 L30.0 399.2 L32.0 401.1 L34.0 402.8 L36.0 404.3 L38.0 405.5 L40.0 406.5 L42.0 407.1 L44.0 407.7 L46.0 408.3 L48.0 408.8 L50.0 409.3 L52.0 409.8 L54.0 410.3 L56.0 410.7 L58.0 411.1 L60.0 411.5 L62.0 411.8 L64.0 412.1 L66.0 412.3 L68.0 412.6 L70.0 412.8 L72.0 413.2 L74.0 413.6 L76.0 414.2 L78.0 414.8 L80.0 415.5 L82.0 416.2 L84.0 417.0 L86.0 417.7 L88.0 418.5 L90.0 419.4 L92.0 420.3 L94.0 420.9 L96.0 421.5 L98.0 421.6 L100.0 421.2 L102.0 420.3 L104.0 419.2 L106.0 417.8 L108.0 416.2 L110.0 414.1 L112.0 411.6 L114.0 408.9 L116.0 405.9 L118.0 403.2 L120.0 401.0 L122.0 399.3 L124.0 398.0 L126.0 397.1 L128.0 396.3 L130.0 395.5 L132.0 395.0 L134.0 394.8 L136.0 395.0 L138.0 395.8 L140.0 397.1 L142.0 399.0 L144.0 401.3 L146.0 404.1 L148.0 407.3 L150.0 410.8 L152.0 414.5 L154.0 418.2 L156.0 421.8 L158.0 425.2 L160.0 428.4 L162.0 431.2 L164.0 433.9 L166.0 436.5 L168.0 439.0 L170.0 441.3 L172.0 443.5 L174.0 445.4 L176.0 447.0 L178.0 448.4 L180.0 449.5 L182.0 450.4 L184.0 451.2 L186.0 451.8 L188.0 452.4 L190.0 452.8 L192.0 453.3 L194.0 453.8 L196.0 454.2 L198.0 454.2 L200.0 453.7 L202.0 452.7 L204.0 451.4 L206.0 449.8 L208.0 448.3 L210.0 447.0 L212.0 445.9 L214.0 444.9 L216.0 443.9 L218.0 442.9 L220.0 441.7 L222.0 440.4 L224.0 438.8 L226.0 437.0 L228.0 435.1 L230.0 433.4 L232.0 432.0 L234.0 430.9 L236.0 430.5 L238.0 430.7 L240.0 431.2 L242.0 432.0 L244.0 433.0 L246.0 433.8 L248.0 434.5 L250.0 435.0 L252.0 435.5 L254.0 435.9 L256.0 436.5 L258.0 437.4 L260.0 438.6 L262.0 440.2 L264.0 442.0 L266.0 443.9 L268.0 445.7 L270.0 447.4 L272.0 448.8 L274.0 449.9 L276.0 450.7 L278.0 451.1 L280.0 451.1 L282.0 450.8 L284.0 450.4 L286.0 449.9 L288.0 449.4 L290.0 448.7 L292.0 447.9 L294.0 446.7 L296.0 445.0 L298.0 442.9 L300.0 440.4 L302.0 437.4 L304.0 434.3 L306.0 431.1 L308.0 427.8 L310.0 424.8 L312.0 422.0 L314.0 419.5 L316.0 417.6 L318.0 416.3 L320.0 415.6 L322.0 415.6 L324.0 416.0 L326.0 416.8 L328.0 417.9 L330.0 419.4 L332.0 421.5 L334.0 424.1 L336.0 427.2 L338.0 430.9 L340.0 434.9 L342.0 439.2 L344.0 443.6 L346.0 448.1 L348.0 452.5 L350.0 456.7 L352.0 460.5 L354.0 463.6 L356.0 466.0 L358.0 467.9 L360.0 469.0 L362.0 469.9 L364.0 470.6 L366.0 471.1 L368.0 471.5 L370.0 471.6 L372.0 471.5 L374.0 471.1 L376.0 470.3 L378.0 469.1 L380.0 467.8 L382.0 466.2 L384.0 464.5 L386.0 462.9 L388.0 461.4 L390.0 460.0 L392.0 458.7 L394.0 457.7 L396.0 456.9 L398.0 456.3 L400.0 455.9 L402.0 455.5 L404.0 454.7 L406.0 453.5 L408.0 452.2 L410.0 450.6 L412.0 449.0 L414.0 447.7 L416.0 446.6 L418.0 445.8 L420.0 445.2 L422.0 444.8 L424.0 444.6 L426.0 444.4 L428.0 444.3 L430.0 444.1 L432.0 443.9 L434.0 443.6 L436.0 443.3 L438.0 442.8 L440.0 442.3 L442.0 441.7 L444.0 441.0 L446.0 440.5 L448.0 440.0 L450.0 439.7 L452.0 439.3 L454.0 438.9 L456.0 438.3 L458.0 437.5 L460.0 436.3 L462.0 435.0 L464.0 433.3 L466.0 431.5 L468.0 429.3 L470.0 426.6 L472.0 423.6 L474.0 420.5 L476.0 417.5 L478.0 414.9 L480.0 413.1 L482.0 412.0 L484.0 411.5 L486.0 411.4 L488.0 411.5 L490.0 411.7 L492.0 411.9 L494.0 412.1 L496.0 412.5 L498.0 413.0 L500.0 413.7 L502.0 414.7 L504.0 416.1 L506.0 417.7 L508.0 420.0 L510.0 422.9 L512.0 426.2 L514.0 429.7 L516.0 433.3 L518.0 436.4 L520.0 439.1 L522.0 441.2 L524.0 443.0 L526.0 444.3 L528.0 445.5 L530.0 446.6 L532.0 447.6 L534.0 448.6 L536.0 449.6 L538.0 450.6 L540.0 451.2 L542.0 451.5 L544.0 451.5 L546.0 451.1 L548.0 450.4 L550.0 449.8 L552.0 449.3 L554.0 448.7 L556.0 448.2 L558.0 447.7 L560.0 447.2 L562.0 446.8 L564.0 446.6 L566.0 446.4 L568.0 446.3 L570.0 446.2 L572.0 446.1 L574.0 446.1 L576.0 446.0 L578.0 445.9 L580.0 445.9 L582.0 445.8 L584.0 445.5 L586.0 445.1 L588.0 444.5 L590.0 443.9 L592.0 443.2 L594.0 442.5 L596.0 441.6 L598.0 440.4 L600.0 438.9 L602.0 437.0 L604.0 435.0 L606.0 432.7 L608.0 430.2 L610.0 427.5 L612.0 424.8 L614.0 422.1 L616.0 419.6 L618.0 417.2 L620.0 415.0 L622.0 413.0 L624.0 411.3 L626.0 409.9 L628.0 408.7 L630.0 407.7 L632.0 406.9 L634.0 406.4 L636.0 406.1 L638.0 406.1 L640.0 406.2 L642.0 406.5 L644.0 406.9 L646.0 407.3 L648.0 407.8 L650.0 408.4 L652.0 409.0 L654.0 409.6 L656.0 410.2 L658.0 410.7 L660.0 411.1 L662.0 411.4 L664.0 411.6 L666.0 411.7 L668.0 411.6 L670.0 411.2 L672.0 410.5 L674.0 409.7 L676.0 408.6 L678.0 407.6 L680.0 406.5 L682.0 405.5 L684.0 404.7 L686.0 404.1 L688.0 403.8 L690.0 403.7 L692.0 403.9 L694.0 404.1 L696.0 404.3 L698.0 404.5 L700.0 404.5 L702.0 404.4 L704.0 404.3 L706.0 404.3 L708.0 404.5 L710.0 404.9 L712.0 405.5 L714.0 406.4 L716.0 407.3 L718.0 408.2 L720.0 409.1 L722.0 410.0 L724.0 410.7 L726.0 411.4 L728.0 412.0 L730.0 412.5 L732.0 413.0 L734.0 413.3 L736.0 413.5 L738.0 413.6 L740.0 413.7 L742.0 413.6 L744.0 413.3 L746.0 412.8 L748.0 412.1 L750.0 411.1 L752.0 409.9 L754.0 408.5 L756.0 407.0 L758.0 405.4 L760.0 403.9 L762.0 402.2 L764.0 400.6 L766.0 399.0 L768.0 397.5 L770.0 396.1 L772.0 394.8 L774.0 393.8 L776.0 393.2 L778.0 392.8 L780.0 392.8 L782.0 393.1 L784.0 393.6 L786.0 394.2 L788.0 395.0 L790.0 395.9 L792.0 396.8 L794.0 397.8 L796.0 398.8 L798.0 400.0 L800.0 401.3 L802.0 402.7 L804.0 404.1 L806.0 405.4 L808.0 406.5 L810.0 407.3 L812.0 407.7 L814.0 407.8 L816.0 407.6 L818.0 407.1 L820.0 406.4 L822.0 405.7 L824.0 404.9 L826.0 404.3 L828.0 404.0 L830.0 403.8 L832.0 403.9 L834.0 404.3 L836.0 404.8 L838.0 405.1 L840.0 405.4 L842.0 405.5 L844.0 405.6 L846.0 405.9 L848.0 406.5 L850.0 407.5 L852.0 408.7 L854.0 410.3 L856.0 412.2 L858.0 414.0 L860.0 415.9 L862.0 417.8 L864.0 419.3 L866.0 420.5 L868.0 421.3 L870.0 421.8 L872.0 422.0 L874.0 422.2 L876.0 422.4 L878.0 422.7 L880.0 423.0 L882.0 423.4 L884.0 423.8 L886.0 424.2 L888.0 424.5 L890.0 424.9 L892.0 425.2 L894.0 425.7 L896.0 426.4 L898.0 427.3 L900.0 428.4 L902.0 429.8 L904.0 431.4 L906.0 433.0 L908.0 434.6 L910.0 436.3 L912.0 438.0 L914.0 439.7 L916.0 441.5 L918.0 443.5 L920.0 445.7 L922.0 447.9 L924.0 450.1 L926.0 452.3 L928.0 454.6 L930.0 457.0 L932.0 459.2 L934.0 461.2 L936.0 463.0 L938.0 464.5 L940.0 465.6 L942.0 466.6 L944.0 467.5 L946.0 468.3 L948.0 469.0 L950.0 469.5 L952.0 470.0 L954.0 470.5 L956.0 471.0 L958.0 471.1 L960.0 470.9 L962.0 470.2 L964.0 468.8 L966.0 466.7 L968.0 464.3 L970.0 461.5 L972.0 458.5 L974.0 455.6 L976.0 452.8 L978.0 450.0 L980.0 447.0 L982.0 443.8 L984.0 440.5 L986.0 437.1 L988.0 433.7 L990.0 430.9 L992.0 428.5 L994.0 426.6 L996.0 425.1 L998.0 424.1 L1000.0 423.5 L1002.0 423.2 L1004.0 423.2 L1006.0 423.5 L1008.0 423.9 L1010.0 424.4 L1012.0 425.0 L1014.0 425.7 L1016.0 426.3 L1018.0 427.0 L1020.0 427.7 L1022.0 428.4 L1024.0 429.0 L1026.0 429.5 L1028.0 429.9 L1030.0 430.0 L1032.0 430.1 L1034.0 430.2 L1036.0 430.3 L1038.0 430.5 L1040.0 430.8 L1042.0 431.3 L1044.0 431.7 L1046.0 432.2 L1048.0 432.7 L1050.0 433.2 L1052.0 433.7 L1054.0 434.3 L1056.0 434.8 L1058.0 435.5 L1060.0 436.1 L1062.0 436.7 L1064.0 437.2 L1066.0 437.8 L1068.0 438.2 L1070.0 438.6 L1072.0 438.7 L1074.0 438.7 L1076.0 438.3 L1078.0 437.5 L1080.0 436.7 L1082.0 435.7 L1084.0 434.7 L1086.0 433.9 L1088.0 433.1 L1090.0 432.3 L1092.0 431.5 L1094.0 430.7 L1096.0 429.7 L1098.0 428.7 L1100.0 427.6 L1102.0 426.5 L1104.0 425.3 L1106.0 424.2 L1108.0 423.3 L1110.0 422.6 L1112.0 422.1 L1114.0 421.9 L1116.0 421.9 L1118.0 422.3 L1120.0 422.9 L1122.0 423.7 L1124.0 424.5 L1126.0 425.5 L1128.0 426.5 L1130.0 427.5 L1132.0 428.5 L1134.0 429.5 L1136.0 430.5 L1138.0 431.4 L1140.0 432.1 L1141.6 432.6" stroke="#f2d648" stroke-width="1.1" fill="none" stroke-linejoin="round"/>
<path d="M10.0 389.9 L11.0 393.4 L12.0 396.9 L13.0 398.3 L14.0 395.3 L15.0 392.3 L16.0 390.8 L17.0 390.1 L18.0 389.5 L19.0 395.7 L20.0 401.9 L21.0 406.8 L22.0 409.3 L23.0 411.8 L24.0 413.6 L25.0 415.1 L26.0 416.7 L27.0 420.2 L28.0 423.7 L29.0 425.4 L30.0 423.9 L31.0 422.4 L32.0 421.8 L33.0 421.6 L34.0 421.4 L35.0 421.1 L36.0 420.8 L37.0 420.0 L38.0 418.5 L39.0 417.0 L40.0 413.8 L41.0 409.8 L42.0 405.9 L43.0 405.4 L44.0 404.9 L45.0 403.5 L46.0 400.6 L47.0 397.7 L48.0 396.0 L49.0 399.7 L50.0 403.2 L51.0 402.7 L52.0 402.2 L53.0 402.1 L54.0 402.6 L55.0 403.1 L56.0 404.4 L57.0 405.9 L58.0 407.3 L59.0 407.8 L60.0 408.3 L61.0 409.6 L62.0 412.1 L63.0 416.4 L64.0 425.7 L65.0 431.8 L66.0 433.3 L67.0 434.8 L68.0 431.9 L69.0 427.4 L70.0 423.2 L71.0 422.2 L72.0 421.2 L73.0 421.8 L74.0 424.8 L75.0 427.8 L76.0 428.9 L77.0 429.4 L78.0 430.0 L79.0 431.5 L80.0 433.0 L81.0 429.6 L82.0 419.6 L83.0 409.6 L84.0 407.3 L85.0 407.3 L86.0 407.3 L87.0 409.4 L88.0 416.4 L89.0 423.4 L90.0 423.4 L91.0 419.6 L92.0 419.5 L93.0 420.6 L94.0 421.7 L95.0 421.4 L96.0 418.2 L97.0 415.0 L98.0 412.9 L99.0 411.4 L100.0 409.9 L101.0 408.9 L102.0 407.9 L103.0 406.1 L104.0 402.6 L105.0 399.1 L106.0 396.9 L107.0 395.4 L108.0 393.9 L109.0 393.7 L110.0 393.4 L111.0 393.2 L112.0 387.0 L113.0 379.3 L114.0 372.2 L115.0 368.7 L116.0 365.2 L117.0 363.8 L118.0 364.8 L119.0 365.8 L120.0 372.1 L121.0 379.6 L122.0 387.8 L123.0 396.4 L124.0 399.2 L125.0 400.7 L126.0 402.0 L127.0 402.5 L128.0 403.0 L129.0 403.4 L130.0 403.6 L131.0 403.8 L132.0 403.1 L133.0 402.2 L134.0 404.4 L135.0 407.9 L136.0 411.5 L137.0 418.0 L138.0 424.5 L139.0 429.7 L140.0 432.7 L141.0 435.7 L142.0 437.6 L143.0 439.1 L144.0 440.7 L145.0 444.2 L146.0 447.7 L147.0 450.1 L148.0 450.6 L149.0 451.1 L150.0 450.6 L151.0 449.8 L152.0 449.1 L153.0 450.2 L154.0 451.3 L155.0 452.4 L156.0 450.6 L157.0 448.3 L158.0 446.4 L159.0 446.2 L160.0 446.0 L161.0 446.1 L162.0 446.6 L163.0 447.1 L164.0 448.9 L165.0 450.9 L166.0 452.9 L167.0 454.7 L168.0 456.4 L169.0 458.2 L170.0 456.2 L171.0 452.9 L172.0 449.9 L173.0 450.4 L174.0 450.9 L175.0 452.5 L176.0 455.5 L177.0 458.5 L178.0 457.5 L179.0 455.3 L180.0 453.5 L181.0 455.2 L182.0 456.9 L183.0 457.2 L184.0 455.7 L185.0 454.2 L186.0 455.8 L187.0 458.3 L188.0 460.6 L189.0 460.9 L190.0 461.2 L191.0 462.1 L192.0 463.8 L193.0 465.5 L194.0 461.2 L195.0 455.2 L196.0 449.7 L197.0 448.5 L198.0 447.2 L199.0 446.0 L200.0 445.9 L201.0 431.5 L202.0 417.1 L203.0 415.7 L204.0 416.2 L205.0 417.5 L206.0 422.0 L207.0 426.5 L208.0 429.4 L209.0 430.9 L210.0 432.4 L211.0 432.1 L212.0 431.6 L213.0 431.9 L214.0 434.9 L215.0 437.9 L216.0 441.1 L217.0 444.4 L218.0 447.7 L219.0 447.4 L220.0 440.4 L221.0 433.4 L222.0 429.1 L223.0 426.1 L224.0 423.2 L225.0 422.5 L226.0 421.8 L227.0 421.3 L228.0 421.0 L229.0 420.8 L230.0 420.8 L231.0 422.3 L232.0 423.8 L233.0 425.8 L234.0 428.3 L235.0 430.8 L236.0 435.0 L237.0 439.5 L238.0 443.0 L239.0 442.0 L240.0 441.0 L241.0 441.6 L242.0 443.6 L243.0 445.6 L244.0 446.0 L245.0 446.2 L246.0 446.3 L247.0 445.5 L248.0 443.3 L249.0 441.1 L250.0 442.0 L251.0 444.0 L252.0 446.0 L253.0 447.5 L254.0 449.0 L255.0 449.7 L256.0 449.2 L257.0 448.7 L258.0 449.6 L259.0 451.1 L260.0 452.9 L261.0 457.1 L262.0 461.4 L263.0 464.6 L264.0 461.4 L265.0 458.2 L266.0 455.7 L267.0 454.0 L268.0 452.4 L269.0 451.9 L270.0 454.4 L271.0 456.9 L272.0 458.2 L273.0 458.7 L274.0 459.2 L275.0 457.7 L276.0 456.2 L277.0 453.7 L278.0 448.7 L279.0 443.7 L280.0 439.4 L281.0 435.5 L282.0 431.5 L283.0 432.2 L284.0 438.7 L285.0 442.0 L286.0 438.0 L287.0 434.0 L288.0 432.7 L289.0 432.8 L290.0 433.0 L291.0 431.0 L292.0 426.3 L293.0 421.6 L294.0 416.2 L295.0 410.7 L296.0 405.8 L297.0 405.0 L298.0 404.2 L299.0 403.3 L300.0 405.6 L301.0 408.1 L302.0 408.8 L303.0 404.8 L304.0 400.8 L305.0 399.0 L306.0 398.5 L307.0 398.0 L308.0 401.7 L309.0 405.7 L310.0 408.5 L311.0 408.3 L312.0 408.1 L313.0 407.0 L314.0 405.2 L315.0 403.5 L316.0 405.1 L317.0 411.4 L318.0 417.7 L319.0 426.8 L320.0 436.8 L321.0 440.7 L322.0 440.9 L323.0 441.1 L324.0 442.5 L325.0 444.0 L326.0 445.5 L327.0 447.8 L328.0 450.3 L329.0 452.9 L330.0 456.4 L331.0 459.9 L332.0 462.1 L333.0 462.6 L334.0 463.1 L335.0 466.3 L336.0 470.3 L337.0 473.9 L338.0 474.4 L339.0 474.9 L340.0 476.1 L341.0 478.1 L342.0 480.1 L343.0 481.9 L344.0 483.8 L345.0 485.6 L346.0 485.8 L347.0 484.9 L348.0 484.0 L349.0 483.7 L350.0 483.4 L351.0 483.2 L352.0 483.5 L353.0 483.7 L354.0 483.7 L355.0 480.4 L356.0 477.1 L357.0 474.3 L358.0 472.3 L359.0 470.3 L360.0 464.9 L361.0 458.2 L362.0 451.5 L363.0 449.9 L364.0 452.4 L365.0 454.9 L366.0 456.2 L367.0 457.2 L368.0 458.3 L369.0 460.5 L370.0 463.2 L371.0 465.9 L372.0 467.8 L373.0 469.7 L374.0 471.6 L375.0 467.1 L376.0 461.3 L377.0 455.5 L378.0 449.5 L379.0 443.8 L380.0 446.1 L381.0 448.4 L382.0 450.6 L383.0 452.7 L384.0 454.8 L385.0 456.0 L386.0 452.8 L387.0 449.9 L388.0 450.8 L389.0 451.7 L390.0 452.5 L391.0 453.3 L392.0 454.1 L393.0 455.2 L394.0 456.8 L395.0 458.4 L396.0 458.6 L397.0 450.9 L398.0 443.3 L399.0 447.8 L400.0 452.3 L401.0 454.2 L402.0 451.2 L403.0 448.2 L404.0 447.0 L405.0 446.8 L406.0 446.5 L407.0 444.6 L408.0 440.9 L409.0 437.2 L410.0 434.5 L411.0 432.0 L412.0 429.9 L413.0 429.7 L414.0 429.5 L415.0 428.2 L416.0 425.9 L417.0 423.5 L418.0 425.1 L419.0 435.8 L420.0 444.8 L421.0 446.5 L422.0 448.2 L423.0 449.2 L424.0 449.4 L425.0 449.6 L426.0 450.0 L427.0 451.8 L428.0 453.6 L429.0 453.3 L430.0 449.8 L431.0 447.4 L432.0 448.2 L433.0 449.1 L434.0 449.9 L435.0 450.3 L436.0 450.7 L437.0 451.1 L438.0 449.5 L439.0 447.5 L440.0 444.4 L441.0 436.9 L442.0 429.8 L443.0 428.8 L444.0 427.8 L445.0 427.2 L446.0 427.2 L447.0 427.2 L448.0 426.8 L449.0 424.5 L450.0 422.2 L451.0 421.7 L452.0 425.9 L453.0 429.3 L454.0 428.8 L455.0 428.3 L456.0 427.8 L457.0 427.2 L458.0 426.6 L459.0 426.0 L460.0 424.9 L461.0 423.6 L462.0 422.2 L463.0 419.5 L464.0 416.8 L465.0 414.2 L466.0 411.7 L467.0 409.2 L468.0 407.7 L469.0 406.5 L470.0 404.5 L471.0 395.9 L472.0 387.3 L473.0 378.7 L474.0 381.5 L475.0 384.4 L476.0 385.4 L477.0 386.4 L478.0 387.6 L479.0 390.6 L480.0 393.6 L481.0 397.1 L482.0 401.1 L483.0 405.1 L484.0 410.9 L485.0 417.1 L486.0 426.9 L487.0 437.6 L488.0 433.9 L489.0 430.1 L490.0 429.1 L491.0 428.3 L492.0 427.5 L493.0 428.2 L494.0 429.6 L495.0 431.0 L496.0 432.4 L497.0 433.9 L498.0 435.5 L499.0 437.4 L500.0 439.2 L501.0 436.7 L502.0 434.2 L503.0 431.7 L504.0 433.3 L505.0 435.8 L506.0 438.6 L507.0 443.1 L508.0 447.7 L509.0 451.3 L510.0 451.8 L511.0 452.3 L512.0 452.8 L513.0 453.3 L514.0 453.8 L515.0 451.3 L516.0 448.5 L517.0 446.9 L518.0 449.2 L519.0 451.5 L520.0 454.2 L521.0 457.2 L522.0 460.2 L523.0 462.3 L524.0 464.3 L525.0 464.5 L526.0 459.1 L527.0 453.7 L528.0 448.5 L529.0 448.5 L530.0 448.5 L531.0 448.7 L532.0 449.2 L533.0 449.7 L534.0 451.9 L535.0 454.7 L536.0 457.2 L537.0 454.9 L538.0 452.6 L539.0 451.0 L540.0 450.5 L541.0 450.0 L542.0 446.9 L543.0 442.9 L544.0 438.9 L545.0 435.2 L546.0 431.4 L547.0 427.7 L548.0 432.7 L549.0 438.9 L550.0 443.3 L551.0 441.3 L552.0 439.3 L553.0 437.4 L554.0 439.5 L555.0 441.6 L556.0 441.9 L557.0 441.9 L558.0 442.5 L559.0 445.4 L560.0 448.4 L561.0 451.2 L562.0 452.4 L563.0 453.6 L564.0 454.5 L565.0 454.8 L566.0 455.1 L567.0 455.7 L568.0 456.4 L569.0 457.1 L570.0 457.6 L571.0 458.1 L572.0 457.4 L573.0 454.7 L574.0 452.0 L575.0 449.4 L576.0 446.9 L577.0 444.5 L578.0 444.1 L579.0 443.6 L580.0 443.2 L581.0 443.4 L582.0 443.6 L583.0 441.8 L584.0 436.1 L585.0 430.4 L586.0 426.9 L587.0 424.4 L588.0 421.9 L589.0 420.9 L590.0 419.9 L591.0 418.9 L592.0 424.6 L593.0 431.8 L594.0 437.4 L595.0 433.9 L596.0 430.4 L597.0 427.3 L598.0 424.8 L599.0 422.3 L600.0 420.7 L601.0 419.2 L602.0 417.5 L603.0 415.0 L604.0 412.5 L605.0 410.6 L606.0 409.4 L607.0 408.1 L608.0 406.5 L609.0 404.0 L610.0 401.3 L611.0 397.6 L612.0 393.9 L613.0 392.1 L614.0 392.1 L615.0 392.1 L616.0 392.9 L617.0 395.4 L618.0 397.9 L619.0 399.9 L620.0 398.6 L621.0 397.3 L622.0 396.4 L623.0 395.9 L624.0 395.4 L625.0 399.1 L626.0 403.9 L627.0 408.1 L628.0 408.3 L629.0 408.5 L630.0 408.0 L631.0 406.8 L632.0 405.5 L633.0 405.7 L634.0 409.7 L635.0 413.7 L636.0 419.1 L637.0 425.4 L638.0 431.7 L639.0 430.5 L640.0 428.8 L641.0 427.1 L642.0 422.4 L643.0 416.6 L644.0 411.5 L645.0 415.0 L646.0 418.5 L647.0 418.6 L648.0 413.9 L649.0 409.2 L650.0 405.4 L651.0 401.9 L652.0 398.9 L653.0 400.4 L654.0 401.9 L655.0 404.0 L656.0 407.0 L657.0 410.0 L658.0 410.9 L659.0 411.1 L660.0 410.9 L661.0 407.1 L662.0 403.4 L663.0 399.6 L664.0 401.1 L665.0 403.1 L666.0 405.8 L667.0 410.8 L668.0 415.8 L669.0 416.4 L670.0 413.9 L671.0 411.4 L672.0 407.1 L673.0 402.6 L674.0 399.2 L675.0 399.0 L676.0 398.7 L677.0 398.4 L678.0 397.2 L679.0 396.0 L680.0 395.4 L681.0 395.6 L682.0 395.8 L683.0 395.8 L684.0 395.8 L685.0 395.8 L686.0 395.2 L687.0 394.6 L688.0 394.0 L689.0 402.3 L690.0 409.0 L691.0 408.7 L692.0 408.4 L693.0 408.2 L694.0 410.3 L695.0 412.4 L696.0 414.5 L697.0 413.4 L698.0 411.9 L699.0 410.2 L700.0 407.9 L701.0 405.6 L702.0 403.6 L703.0 401.8 L704.0 400.0 L705.0 401.7 L706.0 403.9 L707.0 406.1 L708.0 405.1 L709.0 402.8 L710.0 400.8 L711.0 406.3 L712.0 411.8 L713.0 416.9 L714.0 421.4 L715.0 425.9 L716.0 426.5 L717.0 425.5 L718.0 424.4 L719.0 420.6 L720.0 416.9 L721.0 413.1 L722.0 410.7 L723.0 408.5 L724.0 408.1 L725.0 415.2 L726.0 421.8 L727.0 420.3 L728.0 418.8 L729.0 418.1 L730.0 418.7 L731.0 419.3 L732.0 419.5 L733.0 418.1 L734.0 416.7 L735.0 415.2 L736.0 413.6 L737.0 412.0 L738.0 412.1 L739.0 412.6 L740.0 413.0 L741.0 408.9 L742.0 402.7 L743.0 396.6 L744.0 396.6 L745.0 396.6 L746.0 396.5 L747.0 396.2 L748.0 395.9 L749.0 396.2 L750.0 396.8 L751.0 397.3 L752.0 395.3 L753.0 393.3 L754.0 392.0 L755.0 391.7 L756.0 391.4 L757.0 389.5 L758.0 387.0 L759.0 384.6 L760.0 384.0 L761.0 383.4 L762.0 382.8 L763.0 385.0 L764.0 387.7 L765.0 390.3 L766.0 389.5 L767.0 386.8 L768.0 384.1 L769.0 384.4 L770.0 384.6 L771.0 390.1 L772.0 395.6 L773.0 398.7 L774.0 397.0 L775.0 395.3 L776.0 394.6 L777.0 394.3 L778.0 394.1 L779.0 398.0 L780.0 406.5 L781.0 415.0 L782.0 412.3 L783.0 407.1 L784.0 403.0 L785.0 404.7 L786.0 406.4 L787.0 406.6 L788.0 405.4 L789.0 404.1 L790.0 404.4 L791.0 408.2 L792.0 412.0 L793.0 411.9 L794.0 409.6 L795.0 407.3 L796.0 402.9 L797.0 398.4 L798.0 397.3 L799.0 404.0 L800.0 410.6 L801.0 416.6 L802.0 416.4 L803.0 416.2 L804.0 416.1 L805.0 416.3 L806.0 416.5 L807.0 417.8 L808.0 419.3 L809.0 420.1 L810.0 416.1 L811.0 412.1 L812.0 407.9 L813.0 403.4 L814.0 398.9 L815.0 395.6 L816.0 392.6 L817.0 389.9 L818.0 389.3 L819.0 388.7 L820.0 388.1 L821.0 388.1 L822.0 388.1 L823.0 388.7 L824.0 390.9 L825.0 393.1 L826.0 393.5 L827.0 392.8 L828.0 392.1 L829.0 397.7 L830.0 403.7 L831.0 408.7 L832.0 410.9 L833.0 413.2 L834.0 415.4 L835.0 417.4 L836.0 419.4 L837.0 420.9 L838.0 421.6 L839.0 422.3 L840.0 422.1 L841.0 421.7 L842.0 420.9 L843.0 416.1 L844.0 411.3 L845.0 408.8 L846.0 409.3 L847.0 409.8 L848.0 413.2 L849.0 417.5 L850.0 421.6 L851.0 423.4 L852.0 425.2 L853.0 427.1 L854.0 429.2 L855.0 431.4 L856.0 432.7 L857.0 431.0 L858.0 429.3 L859.0 429.4 L860.0 430.9 L861.0 432.4 L862.0 435.3 L863.0 438.3 L864.0 438.0 L865.0 428.0 L866.0 418.0 L867.0 412.9 L868.0 411.3 L869.0 409.6 L870.0 409.2 L871.0 410.7 L872.0 412.2 L873.0 415.9 L874.0 420.4 L875.0 424.7 L876.0 427.0 L877.0 429.3 L878.0 429.3 L879.0 426.0 L880.0 422.7 L881.0 421.3 L882.0 420.5 L883.0 420.0 L884.0 422.1 L885.0 424.3 L886.0 426.5 L887.0 427.8 L888.0 429.0 L889.0 429.9 L890.0 429.9 L891.0 429.9 L892.0 429.1 L893.0 427.6 L894.0 426.1 L895.0 430.4 L896.0 435.4 L897.0 440.3 L898.0 444.8 L899.0 449.3 L900.0 452.6 L901.0 455.1 L902.0 457.6 L903.0 459.0 L904.0 458.5 L905.0 458.0 L906.0 457.9 L907.0 457.9 L908.0 457.5 L909.0 450.5 L910.0 443.5 L911.0 441.3 L912.0 446.7 L913.0 452.1 L914.0 457.0 L915.0 459.5 L916.0 462.0 L917.0 463.4 L918.0 463.9 L919.0 464.4 L920.0 466.2 L921.0 468.2 L922.0 469.5 L923.0 468.0 L924.0 466.5 L925.0 467.2 L926.0 469.7 L927.0 472.2 L928.0 472.6 L929.0 472.8 L930.0 473.0 L931.0 474.9 L932.0 477.7 L933.0 480.5 L934.0 481.0 L935.0 481.5 L936.0 480.4 L937.0 476.4 L938.0 472.4 L939.0 470.7 L940.0 470.0 L941.0 469.3 L942.0 470.5 L943.0 471.7 L944.0 473.2 L945.0 475.2 L946.0 477.2 L947.0 479.2 L948.0 481.2 L949.0 483.1 L950.0 482.1 L951.0 481.1 L952.0 478.8 L953.0 474.2 L954.0 469.6 L955.0 465.8 L956.0 465.4 L957.0 464.9 L958.0 464.5 L959.0 456.6 L960.0 448.5 L961.0 448.7 L962.0 448.9 L963.0 448.0 L964.0 444.8 L965.0 441.6 L966.0 435.8 L967.0 428.7 L968.0 421.6 L969.0 417.2 L970.0 415.7 L971.0 414.2 L972.0 413.5 L973.0 414.8 L974.0 416.1 L975.0 418.6 L976.0 421.9 L977.0 425.2 L978.0 426.0 L979.0 426.7 L980.0 425.0 L981.0 417.5 L982.0 410.0 L983.0 406.8 L984.0 406.1 L985.0 405.4 L986.0 408.8 L987.0 412.3 L988.0 414.8 L989.0 415.0 L990.0 415.2 L991.0 417.2 L992.0 420.2 L993.0 423.2 L994.0 427.6 L995.0 432.1 L996.0 436.3 L997.0 439.6 L998.0 442.9 L999.0 445.7 L1000.0 444.2 L1001.0 442.7 L1002.0 441.2 L1003.0 439.7 L1004.0 438.2 L1005.0 436.3 L1006.0 434.3 L1007.0 432.2 L1008.0 429.3 L1009.0 426.3 L1010.0 423.4 L1011.0 423.0 L1012.0 422.7 L1013.0 423.1 L1014.0 425.4 L1015.0 427.7 L1016.0 429.7 L1017.0 431.5 L1018.0 433.3 L1019.0 430.7 L1020.0 427.9 L1021.0 426.0 L1022.0 426.5 L1023.0 427.0 L1024.0 426.3 L1025.0 424.8 L1026.0 423.3 L1027.0 424.9 L1028.0 430.6 L1029.0 433.2 L1030.0 428.2 L1031.0 423.2 L1032.0 421.9 L1033.0 422.7 L1034.0 423.6 L1035.0 425.2 L1036.0 427.9 L1037.0 430.6 L1038.0 434.3 L1039.0 438.3 L1040.0 442.2 L1041.0 445.6 L1042.0 448.9 L1043.0 452.2 L1044.0 449.3 L1045.0 445.8 L1046.0 442.4 L1047.0 439.1 L1048.0 435.7 L1049.0 432.6 L1050.0 433.4 L1051.0 434.3 L1052.0 435.1 L1053.0 436.9 L1054.0 438.9 L1055.0 440.9 L1056.0 442.9 L1057.0 444.9 L1058.0 446.5 L1059.0 447.8 L1060.0 446.5 L1061.0 441.3 L1062.0 436.1 L1063.0 437.0 L1064.0 440.2 L1065.0 443.1 L1066.0 441.6 L1067.0 440.1 L1068.0 438.6 L1069.0 437.1 L1070.0 435.6 L1071.0 433.6 L1072.0 431.4 L1073.0 429.4 L1074.0 430.4 L1075.0 431.4 L1076.0 431.5 L1077.0 430.1 L1078.0 428.8 L1079.0 426.6 L1080.0 421.6 L1081.0 416.6 L1082.0 414.6 L1083.0 414.8 L1084.0 415.1 L1085.0 417.7 L1086.0 424.3 L1087.0 428.7 L1088.0 426.1 L1089.0 423.5 L1090.0 421.6 L1091.0 420.2 L1092.0 418.8 L1093.0 418.9 L1094.0 421.4 L1095.0 423.9 L1096.0 423.4 L1097.0 421.7 L1098.0 420.1 L1099.0 421.3 L1100.0 422.5 L1101.0 423.2 L1102.0 423.2 L1103.0 423.2 L1104.0 423.1 L1105.0 422.4 L1106.0 421.7 L1107.0 418.1 L1108.0 411.8 L1109.0 409.3 L1110.0 412.5 L1111.0 415.7 L1112.0 418.8 L1113.0 421.8 L1114.0 424.7 L1115.0 427.2 L1116.0 429.7 L1117.0 432.2 L1118.0 433.4 L1119.0 434.4 L1120.0 435.0 L1121.0 433.8 L1122.0 432.6 L1123.0 434.0 L1124.0 437.7 L1125.0 441.4 L1126.0 443.1 L1127.0 441.4 L1128.0 439.7 L1129.0 440.6 L1130.0 442.6 L1131.0 444.5 L1132.0 443.0 L1133.0 441.5 L1134.0 440.8 L1135.0 441.7 L1136.0 442.5 L1137.0 442.4 L1138.0 437.6 L1139.0 432.8 L1140.0 431.1 L1141.0 432.3 L1141.6 433.1" stroke="#7e57c2" stroke-width="1.1" fill="none" stroke-linejoin="round"/>

<path d="M11 347.5H1269" stroke="#e0e3eb" stroke-width="1" fill="none"/>
<path d="M10.05 27H1270V527.9H10.05z" fill="none" stroke="#eceef4" stroke-width="1.9"/>
<g fill="#131722"><path d="M14 22H7V11H0V4h14v18zM28 22h-8l7.5-18h8L28 22z" transform="translate(10,538) scale(0.528)"/><circle cx="20" cy="8" r="4" transform="translate(10,538) scale(0.528)"/></g>
</svg>
<div class="x" style="left:10.20px;top:8.00px;font-size:12.2px;letter-spacing:-0.185px;color:#131722;">SamerHa published on TradingView.com, Jun 30, 2022 04:19 UTC-4</div>
<div class="x" style="left:18.40px;top:35.00px;font-size:12.2px;letter-spacing:-0.093px;color:#131722;">Australian Dollar / U.S. Dollar, 4h, SAXO</div>
<div class="x" style="left:18.75px;top:52.00px;font-size:12.2px;letter-spacing:-0.048px;color:#131722;">EMA 25/50/100/200</div>
<div class="x" style="left:132.80px;top:52.00px;font-size:12.2px;letter-spacing:-0.380px;color:#1414ff;">0.69065</div>
<div class="x" style="left:181.90px;top:52.00px;font-size:12.2px;letter-spacing:-0.266px;color:#ff1414;">0.69279</div>
<div class="x" style="left:231.60px;top:52.00px;font-size:12.2px;letter-spacing:-0.280px;color:#ff8a14;">0.69710</div>
<div class="x" style="left:280.80px;top:52.00px;font-size:12.2px;letter-spacing:-0.266px;color:#148a14;">0.70307</div>
<div class="x" style="left:18.40px;top:356.00px;font-size:12.2px;letter-spacing:-0.288px;color:#131722;">RSI (14, close, SMA, 14, 2)</div>
<div class="x" style="left:166.10px;top:356.00px;font-size:12.2px;letter-spacing:-0.200px;color:#7e57c2;">44.28</div>
<div class="x" style="left:203.00px;top:356.00px;font-size:12.2px;letter-spacing:-0.280px;color:#fde63c;">44.88</div>
<div class="x" style="left:240.20px;top:356.00px;font-size:12.2px;letter-spacing:0.000px;color:#131722;transform:scaleX(0.76);transform-origin:0 0;">∅</div>
<div class="x" style="left:255.60px;top:356.00px;font-size:12.2px;letter-spacing:0.000px;color:#131722;transform:scaleX(0.76);transform-origin:0 0;">∅</div>
<div class="x" style="left:1216.00px;top:33.00px;font-size:11.2px;letter-spacing:-0.875px;color:#131722;">USD</div>
<div class="x" style="left:32.80px;top:538.50px;font-size:12.8px;letter-spacing:-0.011px;color:#1e222d;">TradingView</div>
<div class="x" style="left:1216.00px;top:72.00px;font-size:12px;letter-spacing:-0.199px;color:#131722;">0.76000</div>
<div class="x" style="left:1216.00px;top:103.00px;font-size:12px;letter-spacing:-0.199px;color:#131722;">0.75000</div>
<div class="x" style="left:1216.00px;top:135.00px;font-size:12px;letter-spacing:-0.199px;color:#131722;">0.74000</div>
<div class="x" style="left:1216.00px;top:166.00px;font-size:12px;letter-spacing:-0.199px;color:#131722;">0.73000</div>
<div class="x" style="left:1216.00px;top:197.00px;font-size:12px;letter-spacing:-0.199px;color:#131722;">0.72000</div>
<div class="x" style="left:1216.00px;top:229.00px;font-size:12px;letter-spacing:-0.199px;color:#131722;">0.71000</div>
<div class="x" style="left:1216.00px;top:260.00px;font-size:12px;letter-spacing:-0.199px;color:#131722;">0.70000</div>
<div class="x" style="left:1216.00px;top:356.00px;font-size:12px;letter-spacing:-0.146px;color:#131722;">80.00</div>
<div class="x" style="left:1216.00px;top:396.00px;font-size:12px;letter-spacing:-0.146px;color:#131722;">60.00</div>
<div class="x" style="left:1216.00px;top:436.00px;font-size:12px;letter-spacing:-0.146px;color:#131722;">40.00</div>
<div class="x" style="left:1216.00px;top:476.00px;font-size:12px;letter-spacing:-0.146px;color:#131722;">20.00</div>
<div class="x" style="left:74.40px;top:507.00px;font-size:12px;letter-spacing:-0.224px;color:#131722;font-weight:700;">Apr</div>
<div class="x" style="left:177.75px;top:507.00px;font-size:12px;letter-spacing:-0.484px;color:#131722;">11</div>
<div class="x" style="left:260.25px;top:507.00px;font-size:12px;letter-spacing:-0.430px;color:#131722;">18</div>
<div class="x" style="left:415.50px;top:507.00px;font-size:12px;letter-spacing:-0.224px;color:#131722;">May</div>
<div class="x" style="left:511.50px;top:507.00px;font-size:12px;letter-spacing:0.000px;color:#131722;">9</div>
<div class="x" style="left:591.25px;top:507.00px;font-size:12px;letter-spacing:-0.430px;color:#131722;">16</div>
<div class="x" style="left:673.25px;top:507.00px;font-size:12px;letter-spacing:-0.430px;color:#131722;">23</div>
<div class="x" style="left:785.50px;top:507.00px;font-size:12px;letter-spacing:0.214px;color:#131722;">Jun</div>
<div class="x" style="left:921.25px;top:507.00px;font-size:12px;letter-spacing:-0.430px;color:#131722;">13</div>
<div class="x" style="left:1004.25px;top:507.00px;font-size:12px;letter-spacing:-0.430px;color:#131722;">20</div>
<div class="x" style="left:1151.50px;top:507.00px;font-size:12px;letter-spacing:0.219px;color:#131722;">Jul</div>

<div class="bd" style="top:294px;height:30.8px;width:58.8px;background:#ef5350;"></div>
<div class="bd" style="top:324.7px;height:17px;width:58.8px;background:#4caf50;"></div>
<div class="bd" style="top:408.8px;height:17.1px;width:46px;background:#ffeb3b;"></div>
<div class="bd" style="top:425.9px;height:16.8px;width:46px;background:#7e57c2;"></div>
<div class="x" style="left:1216.00px;top:296.00px;font-size:12px;letter-spacing:-0.199px;color:#fff;font-weight:700;z-index:3;">0.68873</div>
<div class="x" style="left:1216.00px;top:310.00px;font-size:12px;letter-spacing:-0.146px;color:rgba(255,255,255,0.78);z-index:3;">40:32</div>
<div class="x" style="left:1216.00px;top:327.00px;font-size:12px;letter-spacing:-0.199px;color:#fff;font-weight:700;z-index:3;">0.68000</div>
<div class="x" style="left:1216.00px;top:411.00px;font-size:12px;letter-spacing:-0.146px;color:#131722;font-weight:700;z-index:3;">44.88</div>
<div class="x" style="left:1216.00px;top:428.00px;font-size:12px;letter-spacing:-0.146px;color:#fff;font-weight:700;z-index:3;">44.28</div>

</body></html>
